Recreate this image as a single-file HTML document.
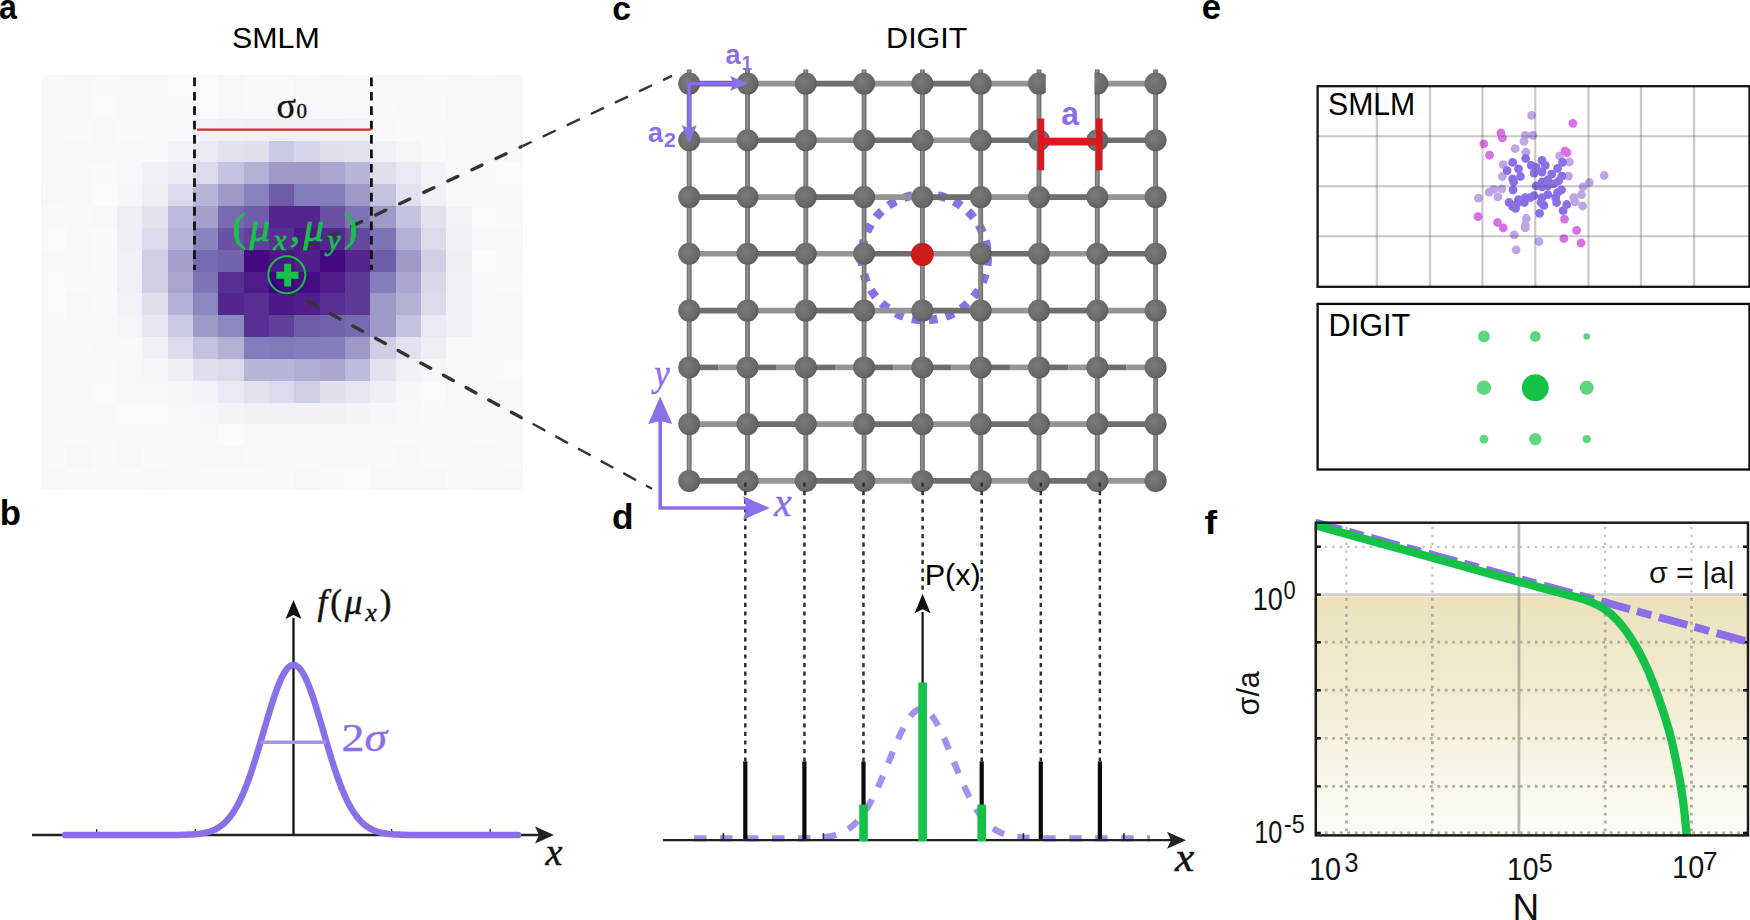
<!DOCTYPE html>
<html lang="en"><head><meta charset="utf-8"><title>SMLM vs DIGIT</title>
<style>html,body{margin:0;padding:0;background:#fff;}body{width:1750px;height:920px;overflow:hidden;}svg{display:block;}</style>
</head><body>
<svg width="1750" height="920" viewBox="0 0 1750 920">
<rect width="1750" height="920" fill="#fff"/>
<g shape-rendering="crispEdges">
<rect x="41.0" y="75.0" width="481.4" height="415.0" fill="#f9f8fb"/>
<rect x="41.00" y="75.00" width="25.64" height="22.14" fill="#f9f8fb"/>
<rect x="66.34" y="75.00" width="25.64" height="22.14" fill="#f9f7fb"/>
<rect x="91.67" y="75.00" width="25.64" height="22.14" fill="#f9f8fb"/>
<rect x="117.00" y="75.00" width="25.64" height="22.14" fill="#f8f7fb"/>
<rect x="142.34" y="75.00" width="25.64" height="22.14" fill="#f8f7fb"/>
<rect x="167.68" y="75.00" width="25.64" height="22.14" fill="#faf9fc"/>
<rect x="193.01" y="75.00" width="25.64" height="22.14" fill="#faf9fc"/>
<rect x="218.34" y="75.00" width="25.64" height="22.14" fill="#f8f6fa"/>
<rect x="243.68" y="75.00" width="25.64" height="22.14" fill="#f9f8fb"/>
<rect x="269.01" y="75.00" width="25.64" height="22.14" fill="#f9f8fb"/>
<rect x="294.35" y="75.00" width="25.64" height="22.14" fill="#f7f6fa"/>
<rect x="319.69" y="75.00" width="25.64" height="22.14" fill="#f9f7fb"/>
<rect x="345.02" y="75.00" width="25.64" height="22.14" fill="#f8f6fa"/>
<rect x="370.36" y="75.00" width="25.64" height="22.14" fill="#f9f7fb"/>
<rect x="395.69" y="75.00" width="25.64" height="22.14" fill="#f8f7fb"/>
<rect x="421.03" y="75.00" width="25.64" height="22.14" fill="#faf8fb"/>
<rect x="446.36" y="75.00" width="25.64" height="22.14" fill="#f8f7fb"/>
<rect x="471.69" y="75.00" width="25.64" height="22.14" fill="#f8f6fa"/>
<rect x="497.03" y="75.00" width="25.64" height="22.14" fill="#f9f7fb"/>
<rect x="41.00" y="96.84" width="25.64" height="22.14" fill="#f8f7fb"/>
<rect x="66.34" y="96.84" width="25.64" height="22.14" fill="#f8f7fb"/>
<rect x="91.67" y="96.84" width="25.64" height="22.14" fill="#faf9fc"/>
<rect x="117.00" y="96.84" width="25.64" height="22.14" fill="#f8f7fb"/>
<rect x="142.34" y="96.84" width="25.64" height="22.14" fill="#f8f7fb"/>
<rect x="167.68" y="96.84" width="25.64" height="22.14" fill="#f9f8fb"/>
<rect x="193.01" y="96.84" width="25.64" height="22.14" fill="#faf9fc"/>
<rect x="218.34" y="96.84" width="25.64" height="22.14" fill="#f8f6fa"/>
<rect x="243.68" y="96.84" width="25.64" height="22.14" fill="#f9f7fb"/>
<rect x="269.01" y="96.84" width="25.64" height="22.14" fill="#f8f7fb"/>
<rect x="294.35" y="96.84" width="25.64" height="22.14" fill="#f8f6fa"/>
<rect x="319.69" y="96.84" width="25.64" height="22.14" fill="#f8f7fb"/>
<rect x="345.02" y="96.84" width="25.64" height="22.14" fill="#f8f6fa"/>
<rect x="370.36" y="96.84" width="25.64" height="22.14" fill="#f9f8fb"/>
<rect x="395.69" y="96.84" width="25.64" height="22.14" fill="#f8f7fa"/>
<rect x="421.03" y="96.84" width="25.64" height="22.14" fill="#f9f8fb"/>
<rect x="446.36" y="96.84" width="25.64" height="22.14" fill="#f7f6fa"/>
<rect x="471.69" y="96.84" width="25.64" height="22.14" fill="#f8f6fa"/>
<rect x="497.03" y="96.84" width="25.64" height="22.14" fill="#faf8fc"/>
<rect x="41.00" y="118.68" width="25.64" height="22.14" fill="#faf8fc"/>
<rect x="66.34" y="118.68" width="25.64" height="22.14" fill="#f9f8fb"/>
<rect x="91.67" y="118.68" width="25.64" height="22.14" fill="#f7f6fa"/>
<rect x="117.00" y="118.68" width="25.64" height="22.14" fill="#f9f8fb"/>
<rect x="142.34" y="118.68" width="25.64" height="22.14" fill="#f8f7fb"/>
<rect x="167.68" y="118.68" width="25.64" height="22.14" fill="#f9f8fb"/>
<rect x="193.01" y="118.68" width="25.64" height="22.14" fill="#f4f2f8"/>
<rect x="218.34" y="118.68" width="25.64" height="22.14" fill="#f3f1f7"/>
<rect x="243.68" y="118.68" width="25.64" height="22.14" fill="#f2f0f7"/>
<rect x="269.01" y="118.68" width="25.64" height="22.14" fill="#f1eff6"/>
<rect x="294.35" y="118.68" width="25.64" height="22.14" fill="#f2f0f7"/>
<rect x="319.69" y="118.68" width="25.64" height="22.14" fill="#f2f0f7"/>
<rect x="345.02" y="118.68" width="25.64" height="22.14" fill="#f4f2f8"/>
<rect x="370.36" y="118.68" width="25.64" height="22.14" fill="#f9f7fb"/>
<rect x="395.69" y="118.68" width="25.64" height="22.14" fill="#f9f8fb"/>
<rect x="421.03" y="118.68" width="25.64" height="22.14" fill="#f9f8fb"/>
<rect x="446.36" y="118.68" width="25.64" height="22.14" fill="#f8f7fb"/>
<rect x="471.69" y="118.68" width="25.64" height="22.14" fill="#f8f7fb"/>
<rect x="497.03" y="118.68" width="25.64" height="22.14" fill="#f8f6fa"/>
<rect x="41.00" y="140.52" width="25.64" height="22.14" fill="#f8f7fb"/>
<rect x="66.34" y="140.52" width="25.64" height="22.14" fill="#f8f6fa"/>
<rect x="91.67" y="140.52" width="25.64" height="22.14" fill="#f8f6fa"/>
<rect x="117.00" y="140.52" width="25.64" height="22.14" fill="#f7f6fa"/>
<rect x="142.34" y="140.52" width="25.64" height="22.14" fill="#f8f7fb"/>
<rect x="167.68" y="140.52" width="25.64" height="22.14" fill="#f4f2f8"/>
<rect x="193.01" y="140.52" width="25.64" height="22.14" fill="#ebe9f3"/>
<rect x="218.34" y="140.52" width="25.64" height="22.14" fill="#e2e2ef"/>
<rect x="243.68" y="140.52" width="25.64" height="22.14" fill="#dfdfed"/>
<rect x="269.01" y="140.52" width="25.64" height="22.14" fill="#c9cae3"/>
<rect x="294.35" y="140.52" width="25.64" height="22.14" fill="#d5d5e9"/>
<rect x="319.69" y="140.52" width="25.64" height="22.14" fill="#dfdfed"/>
<rect x="345.02" y="140.52" width="25.64" height="22.14" fill="#e2e2ef"/>
<rect x="370.36" y="140.52" width="25.64" height="22.14" fill="#f2f0f7"/>
<rect x="395.69" y="140.52" width="25.64" height="22.14" fill="#f6f4f9"/>
<rect x="421.03" y="140.52" width="25.64" height="22.14" fill="#f9f8fb"/>
<rect x="446.36" y="140.52" width="25.64" height="22.14" fill="#f8f6fa"/>
<rect x="471.69" y="140.52" width="25.64" height="22.14" fill="#f7f6fa"/>
<rect x="497.03" y="140.52" width="25.64" height="22.14" fill="#f8f6fa"/>
<rect x="41.00" y="162.36" width="25.64" height="22.14" fill="#f8f7fb"/>
<rect x="66.34" y="162.36" width="25.64" height="22.14" fill="#f8f7fb"/>
<rect x="91.67" y="162.36" width="25.64" height="22.14" fill="#f9f8fb"/>
<rect x="117.00" y="162.36" width="25.64" height="22.14" fill="#f8f6fa"/>
<rect x="142.34" y="162.36" width="25.64" height="22.14" fill="#f2f0f7"/>
<rect x="167.68" y="162.36" width="25.64" height="22.14" fill="#eeecf5"/>
<rect x="193.01" y="162.36" width="25.64" height="22.14" fill="#dadaeb"/>
<rect x="218.34" y="162.36" width="25.64" height="22.14" fill="#c2c3df"/>
<rect x="243.68" y="162.36" width="25.64" height="22.14" fill="#b1b0d5"/>
<rect x="269.01" y="162.36" width="25.64" height="22.14" fill="#9e9ac8"/>
<rect x="294.35" y="162.36" width="25.64" height="22.14" fill="#9e9ac8"/>
<rect x="319.69" y="162.36" width="25.64" height="22.14" fill="#aaa8d0"/>
<rect x="345.02" y="162.36" width="25.64" height="22.14" fill="#b6b6d8"/>
<rect x="370.36" y="162.36" width="25.64" height="22.14" fill="#dfdfed"/>
<rect x="395.69" y="162.36" width="25.64" height="22.14" fill="#ebe9f3"/>
<rect x="421.03" y="162.36" width="25.64" height="22.14" fill="#f4f2f8"/>
<rect x="446.36" y="162.36" width="25.64" height="22.14" fill="#f8f7fb"/>
<rect x="471.69" y="162.36" width="25.64" height="22.14" fill="#f9f8fb"/>
<rect x="497.03" y="162.36" width="25.64" height="22.14" fill="#faf9fc"/>
<rect x="41.00" y="184.20" width="25.64" height="22.14" fill="#f8f6fa"/>
<rect x="66.34" y="184.20" width="25.64" height="22.14" fill="#f7f6fa"/>
<rect x="91.67" y="184.20" width="25.64" height="22.14" fill="#faf9fc"/>
<rect x="117.00" y="184.20" width="25.64" height="22.14" fill="#f7f5fa"/>
<rect x="142.34" y="184.20" width="25.64" height="22.14" fill="#f0eef5"/>
<rect x="167.68" y="184.20" width="25.64" height="22.14" fill="#dadaeb"/>
<rect x="193.01" y="184.20" width="25.64" height="22.14" fill="#b6b6d8"/>
<rect x="218.34" y="184.20" width="25.64" height="22.14" fill="#9e9ac8"/>
<rect x="243.68" y="184.20" width="25.64" height="22.14" fill="#8683bd"/>
<rect x="269.01" y="184.20" width="25.64" height="22.14" fill="#6f5ca9"/>
<rect x="294.35" y="184.20" width="25.64" height="22.14" fill="#817ebb"/>
<rect x="319.69" y="184.20" width="25.64" height="22.14" fill="#817ebb"/>
<rect x="345.02" y="184.20" width="25.64" height="22.14" fill="#9e9ac8"/>
<rect x="370.36" y="184.20" width="25.64" height="22.14" fill="#c2c3df"/>
<rect x="395.69" y="184.20" width="25.64" height="22.14" fill="#e2e2ef"/>
<rect x="421.03" y="184.20" width="25.64" height="22.14" fill="#f2f0f7"/>
<rect x="446.36" y="184.20" width="25.64" height="22.14" fill="#f8f7fa"/>
<rect x="471.69" y="184.20" width="25.64" height="22.14" fill="#f9f8fb"/>
<rect x="497.03" y="184.20" width="25.64" height="22.14" fill="#faf8fb"/>
<rect x="41.00" y="206.04" width="25.64" height="22.14" fill="#f9f8fb"/>
<rect x="66.34" y="206.04" width="25.64" height="22.14" fill="#f8f7fa"/>
<rect x="91.67" y="206.04" width="25.64" height="22.14" fill="#f8f6fa"/>
<rect x="117.00" y="206.04" width="25.64" height="22.14" fill="#f0eef5"/>
<rect x="142.34" y="206.04" width="25.64" height="22.14" fill="#e2e2ef"/>
<rect x="167.68" y="206.04" width="25.64" height="22.14" fill="#bbbcdb"/>
<rect x="193.01" y="206.04" width="25.64" height="22.14" fill="#a3a0cb"/>
<rect x="218.34" y="206.04" width="25.64" height="22.14" fill="#766ab0"/>
<rect x="243.68" y="206.04" width="25.64" height="22.14" fill="#6f5ca9"/>
<rect x="269.01" y="206.04" width="25.64" height="22.14" fill="#53258e"/>
<rect x="294.35" y="206.04" width="25.64" height="22.14" fill="#53258e"/>
<rect x="319.69" y="206.04" width="25.64" height="22.14" fill="#6a51a3"/>
<rect x="345.02" y="206.04" width="25.64" height="22.14" fill="#7c74b5"/>
<rect x="370.36" y="206.04" width="25.64" height="22.14" fill="#9e9ac8"/>
<rect x="395.69" y="206.04" width="25.64" height="22.14" fill="#c2c3df"/>
<rect x="421.03" y="206.04" width="25.64" height="22.14" fill="#e2e2ef"/>
<rect x="446.36" y="206.04" width="25.64" height="22.14" fill="#f4f2f8"/>
<rect x="471.69" y="206.04" width="25.64" height="22.14" fill="#faf9fc"/>
<rect x="497.03" y="206.04" width="25.64" height="22.14" fill="#f8f7fb"/>
<rect x="41.00" y="227.88" width="25.64" height="22.14" fill="#faf9fc"/>
<rect x="66.34" y="227.88" width="25.64" height="22.14" fill="#f8f7fb"/>
<rect x="91.67" y="227.88" width="25.64" height="22.14" fill="#f9f8fb"/>
<rect x="117.00" y="227.88" width="25.64" height="22.14" fill="#f0eef5"/>
<rect x="142.34" y="227.88" width="25.64" height="22.14" fill="#dadaeb"/>
<rect x="167.68" y="227.88" width="25.64" height="22.14" fill="#b6b6d8"/>
<rect x="193.01" y="227.88" width="25.64" height="22.14" fill="#8683bd"/>
<rect x="218.34" y="227.88" width="25.64" height="22.14" fill="#6a51a3"/>
<rect x="243.68" y="227.88" width="25.64" height="22.14" fill="#61409b"/>
<rect x="269.01" y="227.88" width="25.64" height="22.14" fill="#582f93"/>
<rect x="294.35" y="227.88" width="25.64" height="22.14" fill="#4c1989"/>
<rect x="319.69" y="227.88" width="25.64" height="22.14" fill="#53258e"/>
<rect x="345.02" y="227.88" width="25.64" height="22.14" fill="#65479e"/>
<rect x="370.36" y="227.88" width="25.64" height="22.14" fill="#7c74b5"/>
<rect x="395.69" y="227.88" width="25.64" height="22.14" fill="#b1b0d5"/>
<rect x="421.03" y="227.88" width="25.64" height="22.14" fill="#dadaeb"/>
<rect x="446.36" y="227.88" width="25.64" height="22.14" fill="#f2f0f7"/>
<rect x="471.69" y="227.88" width="25.64" height="22.14" fill="#f8f6fa"/>
<rect x="497.03" y="227.88" width="25.64" height="22.14" fill="#f7f6fa"/>
<rect x="41.00" y="249.72" width="25.64" height="22.14" fill="#f9f7fb"/>
<rect x="66.34" y="249.72" width="25.64" height="22.14" fill="#f7f6fa"/>
<rect x="91.67" y="249.72" width="25.64" height="22.14" fill="#f9f8fb"/>
<rect x="117.00" y="249.72" width="25.64" height="22.14" fill="#f2f0f7"/>
<rect x="142.34" y="249.72" width="25.64" height="22.14" fill="#cecee5"/>
<rect x="167.68" y="249.72" width="25.64" height="22.14" fill="#a3a0cb"/>
<rect x="193.01" y="249.72" width="25.64" height="22.14" fill="#766ab0"/>
<rect x="218.34" y="249.72" width="25.64" height="22.14" fill="#7363ac"/>
<rect x="243.68" y="249.72" width="25.64" height="22.14" fill="#440981"/>
<rect x="269.01" y="249.72" width="25.64" height="22.14" fill="#4b1687"/>
<rect x="294.35" y="249.72" width="25.64" height="22.14" fill="#501f8b"/>
<rect x="319.69" y="249.72" width="25.64" height="22.14" fill="#440981"/>
<rect x="345.02" y="249.72" width="25.64" height="22.14" fill="#53258e"/>
<rect x="370.36" y="249.72" width="25.64" height="22.14" fill="#6f5ca9"/>
<rect x="395.69" y="249.72" width="25.64" height="22.14" fill="#9e9ac8"/>
<rect x="421.03" y="249.72" width="25.64" height="22.14" fill="#cecee5"/>
<rect x="446.36" y="249.72" width="25.64" height="22.14" fill="#f0eef5"/>
<rect x="471.69" y="249.72" width="25.64" height="22.14" fill="#faf9fc"/>
<rect x="497.03" y="249.72" width="25.64" height="22.14" fill="#f8f7fb"/>
<rect x="41.00" y="271.56" width="25.64" height="22.14" fill="#faf9fc"/>
<rect x="66.34" y="271.56" width="25.64" height="22.14" fill="#f9f8fb"/>
<rect x="91.67" y="271.56" width="25.64" height="22.14" fill="#f9f8fb"/>
<rect x="117.00" y="271.56" width="25.64" height="22.14" fill="#f1eff6"/>
<rect x="142.34" y="271.56" width="25.64" height="22.14" fill="#cecee5"/>
<rect x="167.68" y="271.56" width="25.64" height="22.14" fill="#a8a5ce"/>
<rect x="193.01" y="271.56" width="25.64" height="22.14" fill="#7c74b5"/>
<rect x="218.34" y="271.56" width="25.64" height="22.14" fill="#582f93"/>
<rect x="243.68" y="271.56" width="25.64" height="22.14" fill="#4e1c8a"/>
<rect x="269.01" y="271.56" width="25.64" height="22.14" fill="#3f007d"/>
<rect x="294.35" y="271.56" width="25.64" height="22.14" fill="#460c83"/>
<rect x="319.69" y="271.56" width="25.64" height="22.14" fill="#501f8b"/>
<rect x="345.02" y="271.56" width="25.64" height="22.14" fill="#5e3998"/>
<rect x="370.36" y="271.56" width="25.64" height="22.14" fill="#817ebb"/>
<rect x="395.69" y="271.56" width="25.64" height="22.14" fill="#aaa8d0"/>
<rect x="421.03" y="271.56" width="25.64" height="22.14" fill="#d8d8ea"/>
<rect x="446.36" y="271.56" width="25.64" height="22.14" fill="#f1eff6"/>
<rect x="471.69" y="271.56" width="25.64" height="22.14" fill="#f8f7fb"/>
<rect x="497.03" y="271.56" width="25.64" height="22.14" fill="#faf8fb"/>
<rect x="41.00" y="293.40" width="25.64" height="22.14" fill="#faf9fc"/>
<rect x="66.34" y="293.40" width="25.64" height="22.14" fill="#f8f6fa"/>
<rect x="91.67" y="293.40" width="25.64" height="22.14" fill="#f9f8fb"/>
<rect x="117.00" y="293.40" width="25.64" height="22.14" fill="#f4f2f8"/>
<rect x="142.34" y="293.40" width="25.64" height="22.14" fill="#dfdfed"/>
<rect x="167.68" y="293.40" width="25.64" height="22.14" fill="#b1b0d5"/>
<rect x="193.01" y="293.40" width="25.64" height="22.14" fill="#8b87bf"/>
<rect x="218.34" y="293.40" width="25.64" height="22.14" fill="#53258e"/>
<rect x="243.68" y="293.40" width="25.64" height="22.14" fill="#582f93"/>
<rect x="269.01" y="293.40" width="25.64" height="22.14" fill="#4c1989"/>
<rect x="294.35" y="293.40" width="25.64" height="22.14" fill="#501f8b"/>
<rect x="319.69" y="293.40" width="25.64" height="22.14" fill="#582f93"/>
<rect x="345.02" y="293.40" width="25.64" height="22.14" fill="#5e3998"/>
<rect x="370.36" y="293.40" width="25.64" height="22.14" fill="#9e9ac8"/>
<rect x="395.69" y="293.40" width="25.64" height="22.14" fill="#b1b0d5"/>
<rect x="421.03" y="293.40" width="25.64" height="22.14" fill="#dadaeb"/>
<rect x="446.36" y="293.40" width="25.64" height="22.14" fill="#f2f0f7"/>
<rect x="471.69" y="293.40" width="25.64" height="22.14" fill="#f7f6fa"/>
<rect x="497.03" y="293.40" width="25.64" height="22.14" fill="#f8f6fa"/>
<rect x="41.00" y="315.24" width="25.64" height="22.14" fill="#f9f8fb"/>
<rect x="66.34" y="315.24" width="25.64" height="22.14" fill="#f9f7fb"/>
<rect x="91.67" y="315.24" width="25.64" height="22.14" fill="#f9f7fb"/>
<rect x="117.00" y="315.24" width="25.64" height="22.14" fill="#f6f4f9"/>
<rect x="142.34" y="315.24" width="25.64" height="22.14" fill="#e6e5f1"/>
<rect x="167.68" y="315.24" width="25.64" height="22.14" fill="#c9cae3"/>
<rect x="193.01" y="315.24" width="25.64" height="22.14" fill="#9e9ac8"/>
<rect x="218.34" y="315.24" width="25.64" height="22.14" fill="#8b87bf"/>
<rect x="243.68" y="315.24" width="25.64" height="22.14" fill="#582f93"/>
<rect x="269.01" y="315.24" width="25.64" height="22.14" fill="#61409b"/>
<rect x="294.35" y="315.24" width="25.64" height="22.14" fill="#6f5ca9"/>
<rect x="319.69" y="315.24" width="25.64" height="22.14" fill="#7363ac"/>
<rect x="345.02" y="315.24" width="25.64" height="22.14" fill="#766ab0"/>
<rect x="370.36" y="315.24" width="25.64" height="22.14" fill="#9e9ac8"/>
<rect x="395.69" y="315.24" width="25.64" height="22.14" fill="#c2c3df"/>
<rect x="421.03" y="315.24" width="25.64" height="22.14" fill="#ebe9f3"/>
<rect x="446.36" y="315.24" width="25.64" height="22.14" fill="#f2f0f7"/>
<rect x="471.69" y="315.24" width="25.64" height="22.14" fill="#f8f7fb"/>
<rect x="497.03" y="315.24" width="25.64" height="22.14" fill="#f8f7fb"/>
<rect x="41.00" y="337.08" width="25.64" height="22.14" fill="#f8f7fb"/>
<rect x="66.34" y="337.08" width="25.64" height="22.14" fill="#f8f7fb"/>
<rect x="91.67" y="337.08" width="25.64" height="22.14" fill="#f7f6fa"/>
<rect x="117.00" y="337.08" width="25.64" height="22.14" fill="#f8f7fa"/>
<rect x="142.34" y="337.08" width="25.64" height="22.14" fill="#f2f0f7"/>
<rect x="167.68" y="337.08" width="25.64" height="22.14" fill="#dadaeb"/>
<rect x="193.01" y="337.08" width="25.64" height="22.14" fill="#c2c3df"/>
<rect x="218.34" y="337.08" width="25.64" height="22.14" fill="#b1b0d5"/>
<rect x="243.68" y="337.08" width="25.64" height="22.14" fill="#817ebb"/>
<rect x="269.01" y="337.08" width="25.64" height="22.14" fill="#7f7bb9"/>
<rect x="294.35" y="337.08" width="25.64" height="22.14" fill="#817ebb"/>
<rect x="319.69" y="337.08" width="25.64" height="22.14" fill="#817ebb"/>
<rect x="345.02" y="337.08" width="25.64" height="22.14" fill="#9e9ac8"/>
<rect x="370.36" y="337.08" width="25.64" height="22.14" fill="#cecee5"/>
<rect x="395.69" y="337.08" width="25.64" height="22.14" fill="#e2e2ef"/>
<rect x="421.03" y="337.08" width="25.64" height="22.14" fill="#f0eef5"/>
<rect x="446.36" y="337.08" width="25.64" height="22.14" fill="#f8f7fa"/>
<rect x="471.69" y="337.08" width="25.64" height="22.14" fill="#f9f7fb"/>
<rect x="497.03" y="337.08" width="25.64" height="22.14" fill="#f9f8fb"/>
<rect x="41.00" y="358.92" width="25.64" height="22.14" fill="#f8f7fb"/>
<rect x="66.34" y="358.92" width="25.64" height="22.14" fill="#f9f8fb"/>
<rect x="91.67" y="358.92" width="25.64" height="22.14" fill="#f9f8fb"/>
<rect x="117.00" y="358.92" width="25.64" height="22.14" fill="#f7f6fa"/>
<rect x="142.34" y="358.92" width="25.64" height="22.14" fill="#f6f4f9"/>
<rect x="167.68" y="358.92" width="25.64" height="22.14" fill="#f0eef5"/>
<rect x="193.01" y="358.92" width="25.64" height="22.14" fill="#dfdfed"/>
<rect x="218.34" y="358.92" width="25.64" height="22.14" fill="#dadaeb"/>
<rect x="243.68" y="358.92" width="25.64" height="22.14" fill="#b6b6d8"/>
<rect x="269.01" y="358.92" width="25.64" height="22.14" fill="#b6b6d8"/>
<rect x="294.35" y="358.92" width="25.64" height="22.14" fill="#afaed3"/>
<rect x="319.69" y="358.92" width="25.64" height="22.14" fill="#aaa8d0"/>
<rect x="345.02" y="358.92" width="25.64" height="22.14" fill="#bbbcdb"/>
<rect x="370.36" y="358.92" width="25.64" height="22.14" fill="#e2e2ef"/>
<rect x="395.69" y="358.92" width="25.64" height="22.14" fill="#f2f0f7"/>
<rect x="421.03" y="358.92" width="25.64" height="22.14" fill="#f7f5fa"/>
<rect x="446.36" y="358.92" width="25.64" height="22.14" fill="#f9f7fb"/>
<rect x="471.69" y="358.92" width="25.64" height="22.14" fill="#f8f7fb"/>
<rect x="497.03" y="358.92" width="25.64" height="22.14" fill="#faf9fc"/>
<rect x="41.00" y="380.76" width="25.64" height="22.14" fill="#f9f8fb"/>
<rect x="66.34" y="380.76" width="25.64" height="22.14" fill="#f8f7fb"/>
<rect x="91.67" y="380.76" width="25.64" height="22.14" fill="#faf9fc"/>
<rect x="117.00" y="380.76" width="25.64" height="22.14" fill="#f8f7fb"/>
<rect x="142.34" y="380.76" width="25.64" height="22.14" fill="#f8f7fb"/>
<rect x="167.68" y="380.76" width="25.64" height="22.14" fill="#f6f4f9"/>
<rect x="193.01" y="380.76" width="25.64" height="22.14" fill="#f4f2f8"/>
<rect x="218.34" y="380.76" width="25.64" height="22.14" fill="#ebe9f3"/>
<rect x="243.68" y="380.76" width="25.64" height="22.14" fill="#e2e2ef"/>
<rect x="269.01" y="380.76" width="25.64" height="22.14" fill="#dadaeb"/>
<rect x="294.35" y="380.76" width="25.64" height="22.14" fill="#cecee5"/>
<rect x="319.69" y="380.76" width="25.64" height="22.14" fill="#dfdfed"/>
<rect x="345.02" y="380.76" width="25.64" height="22.14" fill="#e6e5f1"/>
<rect x="370.36" y="380.76" width="25.64" height="22.14" fill="#f0eef5"/>
<rect x="395.69" y="380.76" width="25.64" height="22.14" fill="#f7f5fa"/>
<rect x="421.03" y="380.76" width="25.64" height="22.14" fill="#faf9fc"/>
<rect x="446.36" y="380.76" width="25.64" height="22.14" fill="#f8f7fb"/>
<rect x="471.69" y="380.76" width="25.64" height="22.14" fill="#f9f7fb"/>
<rect x="497.03" y="380.76" width="25.64" height="22.14" fill="#f8f7fb"/>
<rect x="41.00" y="402.60" width="25.64" height="22.14" fill="#f9f8fb"/>
<rect x="66.34" y="402.60" width="25.64" height="22.14" fill="#f8f7fb"/>
<rect x="91.67" y="402.60" width="25.64" height="22.14" fill="#f8f7fb"/>
<rect x="117.00" y="402.60" width="25.64" height="22.14" fill="#faf9fc"/>
<rect x="142.34" y="402.60" width="25.64" height="22.14" fill="#faf9fc"/>
<rect x="167.68" y="402.60" width="25.64" height="22.14" fill="#f8f7fb"/>
<rect x="193.01" y="402.60" width="25.64" height="22.14" fill="#f7f5fa"/>
<rect x="218.34" y="402.60" width="25.64" height="22.14" fill="#f5f3f9"/>
<rect x="243.68" y="402.60" width="25.64" height="22.14" fill="#f2f0f7"/>
<rect x="269.01" y="402.60" width="25.64" height="22.14" fill="#f2f0f7"/>
<rect x="294.35" y="402.60" width="25.64" height="22.14" fill="#f2f0f7"/>
<rect x="319.69" y="402.60" width="25.64" height="22.14" fill="#f2f0f7"/>
<rect x="345.02" y="402.60" width="25.64" height="22.14" fill="#f5f3f9"/>
<rect x="370.36" y="402.60" width="25.64" height="22.14" fill="#f7f5fa"/>
<rect x="395.69" y="402.60" width="25.64" height="22.14" fill="#f7f6fa"/>
<rect x="421.03" y="402.60" width="25.64" height="22.14" fill="#f9f8fb"/>
<rect x="446.36" y="402.60" width="25.64" height="22.14" fill="#f9f7fb"/>
<rect x="471.69" y="402.60" width="25.64" height="22.14" fill="#f8f7fb"/>
<rect x="497.03" y="402.60" width="25.64" height="22.14" fill="#f9f8fb"/>
<rect x="41.00" y="424.44" width="25.64" height="22.14" fill="#f9f8fb"/>
<rect x="66.34" y="424.44" width="25.64" height="22.14" fill="#f9f8fb"/>
<rect x="91.67" y="424.44" width="25.64" height="22.14" fill="#f9f8fb"/>
<rect x="117.00" y="424.44" width="25.64" height="22.14" fill="#f8f7fb"/>
<rect x="142.34" y="424.44" width="25.64" height="22.14" fill="#f9f8fb"/>
<rect x="167.68" y="424.44" width="25.64" height="22.14" fill="#f9f8fb"/>
<rect x="193.01" y="424.44" width="25.64" height="22.14" fill="#f8f7fa"/>
<rect x="218.34" y="424.44" width="25.64" height="22.14" fill="#faf9fc"/>
<rect x="243.68" y="424.44" width="25.64" height="22.14" fill="#f8f7fb"/>
<rect x="269.01" y="424.44" width="25.64" height="22.14" fill="#f8f7fb"/>
<rect x="294.35" y="424.44" width="25.64" height="22.14" fill="#f9f8fb"/>
<rect x="319.69" y="424.44" width="25.64" height="22.14" fill="#f9f8fb"/>
<rect x="345.02" y="424.44" width="25.64" height="22.14" fill="#f8f7fa"/>
<rect x="370.36" y="424.44" width="25.64" height="22.14" fill="#f9f8fb"/>
<rect x="395.69" y="424.44" width="25.64" height="22.14" fill="#f9f8fb"/>
<rect x="421.03" y="424.44" width="25.64" height="22.14" fill="#f9f8fb"/>
<rect x="446.36" y="424.44" width="25.64" height="22.14" fill="#f8f7fb"/>
<rect x="471.69" y="424.44" width="25.64" height="22.14" fill="#faf8fc"/>
<rect x="497.03" y="424.44" width="25.64" height="22.14" fill="#f9f8fb"/>
<rect x="41.00" y="446.28" width="25.64" height="22.14" fill="#f9f8fb"/>
<rect x="66.34" y="446.28" width="25.64" height="22.14" fill="#f8f6fa"/>
<rect x="91.67" y="446.28" width="25.64" height="22.14" fill="#f9f8fb"/>
<rect x="117.00" y="446.28" width="25.64" height="22.14" fill="#f8f6fa"/>
<rect x="142.34" y="446.28" width="25.64" height="22.14" fill="#f9f8fb"/>
<rect x="167.68" y="446.28" width="25.64" height="22.14" fill="#f9f8fb"/>
<rect x="193.01" y="446.28" width="25.64" height="22.14" fill="#f8f7fb"/>
<rect x="218.34" y="446.28" width="25.64" height="22.14" fill="#f8f6fa"/>
<rect x="243.68" y="446.28" width="25.64" height="22.14" fill="#f9f7fb"/>
<rect x="269.01" y="446.28" width="25.64" height="22.14" fill="#f9f8fb"/>
<rect x="294.35" y="446.28" width="25.64" height="22.14" fill="#faf8fc"/>
<rect x="319.69" y="446.28" width="25.64" height="22.14" fill="#f9f7fb"/>
<rect x="345.02" y="446.28" width="25.64" height="22.14" fill="#f9f8fb"/>
<rect x="370.36" y="446.28" width="25.64" height="22.14" fill="#f8f7fa"/>
<rect x="395.69" y="446.28" width="25.64" height="22.14" fill="#f8f6fa"/>
<rect x="421.03" y="446.28" width="25.64" height="22.14" fill="#f9f8fb"/>
<rect x="446.36" y="446.28" width="25.64" height="22.14" fill="#f9f8fb"/>
<rect x="471.69" y="446.28" width="25.64" height="22.14" fill="#f8f6fa"/>
<rect x="497.03" y="446.28" width="25.64" height="22.14" fill="#f8f7fb"/>
<rect x="41.00" y="468.12" width="25.64" height="22.14" fill="#f8f7fa"/>
<rect x="66.34" y="468.12" width="25.64" height="22.14" fill="#f9f8fb"/>
<rect x="91.67" y="468.12" width="25.64" height="22.14" fill="#faf8fc"/>
<rect x="117.00" y="468.12" width="25.64" height="22.14" fill="#f9f8fb"/>
<rect x="142.34" y="468.12" width="25.64" height="22.14" fill="#f8f7fa"/>
<rect x="167.68" y="468.12" width="25.64" height="22.14" fill="#f9f8fb"/>
<rect x="193.01" y="468.12" width="25.64" height="22.14" fill="#f9f8fb"/>
<rect x="218.34" y="468.12" width="25.64" height="22.14" fill="#f9f8fb"/>
<rect x="243.68" y="468.12" width="25.64" height="22.14" fill="#f9f8fb"/>
<rect x="269.01" y="468.12" width="25.64" height="22.14" fill="#f9f8fb"/>
<rect x="294.35" y="468.12" width="25.64" height="22.14" fill="#f8f6fa"/>
<rect x="319.69" y="468.12" width="25.64" height="22.14" fill="#faf8fb"/>
<rect x="345.02" y="468.12" width="25.64" height="22.14" fill="#faf9fc"/>
<rect x="370.36" y="468.12" width="25.64" height="22.14" fill="#f7f6fa"/>
<rect x="395.69" y="468.12" width="25.64" height="22.14" fill="#f8f6fa"/>
<rect x="421.03" y="468.12" width="25.64" height="22.14" fill="#f7f6fa"/>
<rect x="446.36" y="468.12" width="25.64" height="22.14" fill="#f9f8fb"/>
<rect x="471.69" y="468.12" width="25.64" height="22.14" fill="#f7f6fa"/>
<rect x="497.03" y="468.12" width="25.64" height="22.14" fill="#f8f6fa"/>
</g>
<path d="M194.5 77.5V270 M371.4 77.5V270" stroke="#111" stroke-width="2.8" stroke-dasharray="8.7 5.7" fill="none"/>
<path d="M197 129.6H370.7" stroke="#d7282d" stroke-width="2.2"/>
<text x="276.5" y="117.7" font-family="'Liberation Serif',serif" font-size="36" fill="#111" stroke="#111" stroke-width="0.4">σ<tspan font-size="21" dx="0.5">0</tspan></text>
<clipPath id="cin"><rect x="0" y="0" width="522.4" height="920"/></clipPath><clipPath id="cout"><rect x="522.4" y="0" width="700" height="920"/></clipPath>
<g fill="none" stroke="#343434">
<path d="M286 257.07L672 75.9" clip-path="url(#cin)" stroke-width="3.4" stroke-linecap="round" stroke-dasharray="11 15.6" stroke-dashoffset="7.36"/>
<path d="M286 257.07L672 75.9" clip-path="url(#cout)" stroke-width="2.4" stroke-dasharray="14.4 12.2" stroke-dashoffset="9.06"/>
<path d="M290.5 291.98L652 488.8" clip-path="url(#cin)" stroke-width="3.4" stroke-linecap="round" stroke-dasharray="11.1 14.7" stroke-dashoffset="6.4"/>
<path d="M290.5 291.98L652 488.8" clip-path="url(#cout)" stroke-width="2.4" stroke-dasharray="14.5 11.3" stroke-dashoffset="8.1"/>
</g>
<circle cx="286.8" cy="274.8" r="18.5" fill="none" stroke="#16c148" stroke-width="2"/>
<path d="M276.3 271.7h22.2v7.1h-22.2z M284.1 263.8h7.1v22.7h-7.1z" fill="#16c148"/>
<text x="232.5" y="240.5" textLength="125" lengthAdjust="spacing" font-family="'Liberation Serif','DejaVu Serif',serif" font-style="italic" font-size="41" fill="#16c148" stroke="#16c148" stroke-width="0.7"><tspan font-style="normal">(</tspan>μ<tspan font-size="30" dy="9">x</tspan><tspan dy="-9">,</tspan>μ<tspan font-size="30" dy="9">y</tspan><tspan dy="-9" font-style="normal">)</tspan></text>
<text transform="translate(-1.10 19.05) scale(0.9195 1)" font-family="'Liberation Sans',sans-serif" font-size="35.00" font-weight="bold" font-style="normal" fill="#000">a</text>
<text transform="translate(232.05 48.43) scale(1.0147 1)" font-family="'Liberation Sans',sans-serif" font-size="29.91" font-weight="normal" font-style="normal" fill="#000">SMLM</text>
<text transform="translate(-0.17 525.06) scale(1.0092 1)" font-family="'Liberation Sans',sans-serif" font-size="34.40" font-weight="bold" font-style="normal" fill="#000">b</text>
<path d="M32 835H540" stroke="#222" stroke-width="2.3"/>
<path d="M554 835l-19 -8.5l4 8.5l-4 8.5z" fill="#222"/>
<path d="M293.5 835V618" stroke="#111" stroke-width="2.3"/>
<path d="M293.5 600l-8 19l8 -4l8 4z" fill="#111"/>
<path d="M96.7 835v-6" stroke="#222" stroke-width="1.3"/>
<path d="M195.3 835v-6" stroke="#222" stroke-width="1.3"/>
<path d="M391.6 835v-6" stroke="#222" stroke-width="1.3"/>
<path d="M490.2 835v-6" stroke="#222" stroke-width="1.3"/>
<path d="M65.0 835.0 L66.0 835.0 L67.0 835.0 L68.0 835.0 L69.0 835.0 L70.0 835.0 L71.0 835.0 L72.0 835.0 L73.0 835.0 L74.0 835.0 L75.0 835.0 L76.0 835.0 L77.0 835.0 L78.0 835.0 L79.0 835.0 L80.0 835.0 L81.0 835.0 L82.0 835.0 L83.0 835.0 L84.0 835.0 L85.0 835.0 L86.0 835.0 L87.0 835.0 L88.0 835.0 L89.0 835.0 L90.0 835.0 L91.0 835.0 L92.0 835.0 L93.0 835.0 L94.0 835.0 L95.0 835.0 L96.0 835.0 L97.0 835.0 L98.0 835.0 L99.0 835.0 L100.0 835.0 L101.0 835.0 L102.0 835.0 L103.0 835.0 L104.0 835.0 L105.0 835.0 L106.0 835.0 L107.0 835.0 L108.0 835.0 L109.0 835.0 L110.0 835.0 L111.0 835.0 L112.0 835.0 L113.0 835.0 L114.0 835.0 L115.0 835.0 L116.0 835.0 L117.0 835.0 L118.0 835.0 L119.0 835.0 L120.0 835.0 L121.0 835.0 L122.0 835.0 L123.0 835.0 L124.0 835.0 L125.0 835.0 L126.0 835.0 L127.0 835.0 L128.0 835.0 L129.0 835.0 L130.0 835.0 L131.0 835.0 L132.0 835.0 L133.0 835.0 L134.0 835.0 L135.0 835.0 L136.0 835.0 L137.0 835.0 L138.0 835.0 L139.0 835.0 L140.0 835.0 L141.0 835.0 L142.0 835.0 L143.0 835.0 L144.0 835.0 L145.0 835.0 L146.0 835.0 L147.0 835.0 L148.0 835.0 L149.0 835.0 L150.0 835.0 L151.0 835.0 L152.0 835.0 L153.0 835.0 L154.0 835.0 L155.0 835.0 L156.0 835.0 L157.0 835.0 L158.0 835.0 L159.0 835.0 L160.0 835.0 L161.0 835.0 L162.0 835.0 L163.0 835.0 L164.0 835.0 L165.0 835.0 L166.0 835.0 L167.0 835.0 L168.0 835.0 L169.0 835.0 L170.0 835.0 L171.0 835.0 L172.0 835.0 L173.0 834.9 L174.0 834.9 L175.0 834.9 L176.0 834.9 L177.0 834.9 L178.0 834.9 L179.0 834.9 L180.0 834.9 L181.0 834.8 L182.0 834.8 L183.0 834.8 L184.0 834.8 L185.0 834.8 L186.0 834.7 L187.0 834.7 L188.0 834.6 L189.0 834.6 L190.0 834.6 L191.0 834.5 L192.0 834.4 L193.0 834.4 L194.0 834.3 L195.0 834.2 L196.0 834.1 L197.0 834.0 L198.0 833.9 L199.0 833.8 L200.0 833.7 L201.0 833.5 L202.0 833.4 L203.0 833.2 L204.0 833.0 L205.0 832.8 L206.0 832.6 L207.0 832.3 L208.0 832.1 L209.0 831.8 L210.0 831.5 L211.0 831.1 L212.0 830.8 L213.0 830.4 L214.0 829.9 L215.0 829.5 L216.0 829.0 L217.0 828.4 L218.0 827.8 L219.0 827.2 L220.0 826.5 L221.0 825.8 L222.0 825.1 L223.0 824.3 L224.0 823.4 L225.0 822.5 L226.0 821.5 L227.0 820.4 L228.0 819.3 L229.0 818.1 L230.0 816.9 L231.0 815.6 L232.0 814.2 L233.0 812.8 L234.0 811.2 L235.0 809.6 L236.0 807.9 L237.0 806.1 L238.0 804.3 L239.0 802.4 L240.0 800.3 L241.0 798.2 L242.0 796.0 L243.0 793.8 L244.0 791.4 L245.0 789.0 L246.0 786.5 L247.0 783.9 L248.0 781.2 L249.0 778.4 L250.0 775.6 L251.0 772.7 L252.0 769.7 L253.0 766.7 L254.0 763.6 L255.0 760.4 L256.0 757.2 L257.0 753.9 L258.0 750.6 L259.0 747.2 L260.0 743.9 L261.0 740.5 L262.0 737.0 L263.0 733.6 L264.0 730.2 L265.0 726.7 L266.0 723.3 L267.0 719.9 L268.0 716.5 L269.0 713.2 L270.0 709.9 L271.0 706.7 L272.0 703.5 L273.0 700.4 L274.0 697.4 L275.0 694.4 L276.0 691.6 L277.0 688.9 L278.0 686.2 L279.0 683.7 L280.0 681.4 L281.0 679.1 L282.0 677.0 L283.0 675.1 L284.0 673.3 L285.0 671.7 L286.0 670.2 L287.0 668.9 L288.0 667.8 L289.0 666.9 L290.0 666.2 L291.0 665.6 L292.0 665.2 L293.0 665.0 L294.0 665.0 L295.0 665.2 L296.0 665.6 L297.0 666.2 L298.0 666.9 L299.0 667.8 L300.0 668.9 L301.0 670.2 L302.0 671.7 L303.0 673.3 L304.0 675.1 L305.0 677.0 L306.0 679.1 L307.0 681.4 L308.0 683.7 L309.0 686.2 L310.0 688.9 L311.0 691.6 L312.0 694.4 L313.0 697.4 L314.0 700.4 L315.0 703.5 L316.0 706.7 L317.0 709.9 L318.0 713.2 L319.0 716.5 L320.0 719.9 L321.0 723.3 L322.0 726.7 L323.0 730.2 L324.0 733.6 L325.0 737.0 L326.0 740.5 L327.0 743.9 L328.0 747.2 L329.0 750.6 L330.0 753.9 L331.0 757.2 L332.0 760.4 L333.0 763.6 L334.0 766.7 L335.0 769.7 L336.0 772.7 L337.0 775.6 L338.0 778.4 L339.0 781.2 L340.0 783.9 L341.0 786.5 L342.0 789.0 L343.0 791.4 L344.0 793.8 L345.0 796.0 L346.0 798.2 L347.0 800.3 L348.0 802.4 L349.0 804.3 L350.0 806.1 L351.0 807.9 L352.0 809.6 L353.0 811.2 L354.0 812.8 L355.0 814.2 L356.0 815.6 L357.0 816.9 L358.0 818.1 L359.0 819.3 L360.0 820.4 L361.0 821.5 L362.0 822.5 L363.0 823.4 L364.0 824.3 L365.0 825.1 L366.0 825.8 L367.0 826.5 L368.0 827.2 L369.0 827.8 L370.0 828.4 L371.0 829.0 L372.0 829.5 L373.0 829.9 L374.0 830.4 L375.0 830.8 L376.0 831.1 L377.0 831.5 L378.0 831.8 L379.0 832.1 L380.0 832.3 L381.0 832.6 L382.0 832.8 L383.0 833.0 L384.0 833.2 L385.0 833.4 L386.0 833.5 L387.0 833.7 L388.0 833.8 L389.0 833.9 L390.0 834.0 L391.0 834.1 L392.0 834.2 L393.0 834.3 L394.0 834.4 L395.0 834.4 L396.0 834.5 L397.0 834.6 L398.0 834.6 L399.0 834.6 L400.0 834.7 L401.0 834.7 L402.0 834.8 L403.0 834.8 L404.0 834.8 L405.0 834.8 L406.0 834.8 L407.0 834.9 L408.0 834.9 L409.0 834.9 L410.0 834.9 L411.0 834.9 L412.0 834.9 L413.0 834.9 L414.0 834.9 L415.0 835.0 L416.0 835.0 L417.0 835.0 L418.0 835.0 L419.0 835.0 L420.0 835.0 L421.0 835.0 L422.0 835.0 L423.0 835.0 L424.0 835.0 L425.0 835.0 L426.0 835.0 L427.0 835.0 L428.0 835.0 L429.0 835.0 L430.0 835.0 L431.0 835.0 L432.0 835.0 L433.0 835.0 L434.0 835.0 L435.0 835.0 L436.0 835.0 L437.0 835.0 L438.0 835.0 L439.0 835.0 L440.0 835.0 L441.0 835.0 L442.0 835.0 L443.0 835.0 L444.0 835.0 L445.0 835.0 L446.0 835.0 L447.0 835.0 L448.0 835.0 L449.0 835.0 L450.0 835.0 L451.0 835.0 L452.0 835.0 L453.0 835.0 L454.0 835.0 L455.0 835.0 L456.0 835.0 L457.0 835.0 L458.0 835.0 L459.0 835.0 L460.0 835.0 L461.0 835.0 L462.0 835.0 L463.0 835.0 L464.0 835.0 L465.0 835.0 L466.0 835.0 L467.0 835.0 L468.0 835.0 L469.0 835.0 L470.0 835.0 L471.0 835.0 L472.0 835.0 L473.0 835.0 L474.0 835.0 L475.0 835.0 L476.0 835.0 L477.0 835.0 L478.0 835.0 L479.0 835.0 L480.0 835.0 L481.0 835.0 L482.0 835.0 L483.0 835.0 L484.0 835.0 L485.0 835.0 L486.0 835.0 L487.0 835.0 L488.0 835.0 L489.0 835.0 L490.0 835.0 L491.0 835.0 L492.0 835.0 L493.0 835.0 L494.0 835.0 L495.0 835.0 L496.0 835.0 L497.0 835.0 L498.0 835.0 L499.0 835.0 L500.0 835.0 L501.0 835.0 L502.0 835.0 L503.0 835.0 L504.0 835.0 L505.0 835.0 L506.0 835.0 L507.0 835.0 L508.0 835.0 L509.0 835.0 L510.0 835.0 L511.0 835.0 L512.0 835.0 L513.0 835.0 L514.0 835.0 L515.0 835.0 L516.0 835.0 L517.0 835.0 L518.0 835.0" fill="none" stroke="#8b6fe8" stroke-width="6.5" stroke-linejoin="round" stroke-linecap="round"/>
<path d="M260.7 742.3H325.7" stroke="#a892ee" stroke-width="3.5"/>
<text x="317.5" y="614" textLength="74" lengthAdjust="spacing" font-family="'Liberation Serif',serif" font-style="italic" font-size="35" fill="#111" stroke="#111" stroke-width="0.5">f<tspan font-style="normal">(</tspan>μ<tspan font-size="26" dy="7">x</tspan><tspan dy="-7" font-style="normal">)</tspan></text>
<text x="341.5" y="750.5" textLength="45.5" lengthAdjust="spacingAndGlyphs" font-family="'Liberation Serif',serif" font-size="40" fill="#8b6fe8" stroke="#8b6fe8" stroke-width="0.4">2<tspan font-style="italic">σ</tspan></text>
<text transform="translate(545.60 865.30) scale(0.9998 1)" font-family="'Liberation Serif',serif" font-size="38.19" font-weight="normal" font-style="italic" fill="#111" stroke="#111" stroke-width="0.5">x</text>
<text transform="translate(612.34 19.97) scale(0.9902 1)" font-family="'Liberation Sans',sans-serif" font-size="34.13" font-weight="bold" font-style="normal" fill="#000">c</text>
<text transform="translate(886.12 48.43) scale(1.0193 1)" font-family="'Liberation Sans',sans-serif" font-size="29.91" font-weight="normal" font-style="normal" fill="#000">DIGIT</text>
<defs><radialGradient id="ng" cx="0.4" cy="0.4" r="0.65"><stop offset="0" stop-color="#7a7a7a"/><stop offset="0.7" stop-color="#6a6a6a"/><stop offset="1" stop-color="#5a5a5a"/></radialGradient>
<linearGradient id="tan" x1="0" y1="0" x2="0" y2="1"><stop offset="0" stop-color="#ebe1bb"/><stop offset="1" stop-color="#fdfcf8"/></linearGradient></defs>
<circle cx="924.7" cy="257.2" r="63" fill="none" stroke="#8b6fe8" stroke-width="8.6" stroke-dasharray="8.5 8.7"/>
<path d="M689.2 83.6H747.5" stroke="#6e6e6e" stroke-width="5.6"/>
<path d="M747.5 83.6H805.8" stroke="#949494" stroke-width="5.6"/>
<path d="M805.8 83.6H864.1" stroke="#6e6e6e" stroke-width="5.6"/>
<path d="M864.1 83.6H922.4" stroke="#949494" stroke-width="5.6"/>
<path d="M922.4 83.6H980.7" stroke="#6e6e6e" stroke-width="5.6"/>
<path d="M980.7 83.6H1039.0" stroke="#949494" stroke-width="5.6"/>
<path d="M1039.0 83.6H1097.3" stroke="#6e6e6e" stroke-width="5.6"/>
<path d="M1097.3 83.6H1155.6" stroke="#949494" stroke-width="5.6"/>
<path d="M689.2 140.3H747.5" stroke="#949494" stroke-width="5.6"/>
<path d="M747.5 140.3H805.8" stroke="#6e6e6e" stroke-width="5.6"/>
<path d="M805.8 140.3H864.1" stroke="#949494" stroke-width="5.6"/>
<path d="M864.1 140.3H922.4" stroke="#6e6e6e" stroke-width="5.6"/>
<path d="M922.4 140.3H980.7" stroke="#949494" stroke-width="5.6"/>
<path d="M980.7 140.3H1039.0" stroke="#6e6e6e" stroke-width="5.6"/>
<path d="M1039.0 140.3H1097.3" stroke="#949494" stroke-width="5.6"/>
<path d="M1097.3 140.3H1155.6" stroke="#6e6e6e" stroke-width="5.6"/>
<path d="M689.2 197.1H747.5" stroke="#6e6e6e" stroke-width="5.6"/>
<path d="M747.5 197.1H805.8" stroke="#949494" stroke-width="5.6"/>
<path d="M805.8 197.1H864.1" stroke="#6e6e6e" stroke-width="5.6"/>
<path d="M864.1 197.1H922.4" stroke="#949494" stroke-width="5.6"/>
<path d="M922.4 197.1H980.7" stroke="#6e6e6e" stroke-width="5.6"/>
<path d="M980.7 197.1H1039.0" stroke="#949494" stroke-width="5.6"/>
<path d="M1039.0 197.1H1097.3" stroke="#6e6e6e" stroke-width="5.6"/>
<path d="M1097.3 197.1H1155.6" stroke="#949494" stroke-width="5.6"/>
<path d="M689.2 253.8H747.5" stroke="#949494" stroke-width="5.6"/>
<path d="M747.5 253.8H805.8" stroke="#6e6e6e" stroke-width="5.6"/>
<path d="M805.8 253.8H864.1" stroke="#949494" stroke-width="5.6"/>
<path d="M864.1 253.8H922.4" stroke="#6e6e6e" stroke-width="5.6"/>
<path d="M922.4 253.8H980.7" stroke="#949494" stroke-width="5.6"/>
<path d="M980.7 253.8H1039.0" stroke="#6e6e6e" stroke-width="5.6"/>
<path d="M1039.0 253.8H1097.3" stroke="#949494" stroke-width="5.6"/>
<path d="M1097.3 253.8H1155.6" stroke="#6e6e6e" stroke-width="5.6"/>
<path d="M689.2 310.6H747.5" stroke="#6e6e6e" stroke-width="5.6"/>
<path d="M747.5 310.6H805.8" stroke="#949494" stroke-width="5.6"/>
<path d="M805.8 310.6H864.1" stroke="#6e6e6e" stroke-width="5.6"/>
<path d="M864.1 310.6H922.4" stroke="#949494" stroke-width="5.6"/>
<path d="M922.4 310.6H980.7" stroke="#6e6e6e" stroke-width="5.6"/>
<path d="M980.7 310.6H1039.0" stroke="#949494" stroke-width="5.6"/>
<path d="M1039.0 310.6H1097.3" stroke="#6e6e6e" stroke-width="5.6"/>
<path d="M1097.3 310.6H1155.6" stroke="#949494" stroke-width="5.6"/>
<path d="M689.2 367.4H718.4" stroke="#6e6e6e" stroke-width="5.6"/>
<path d="M718.4 367.4H747.5" stroke="#949494" stroke-width="5.6"/>
<path d="M747.5 367.4H776.7" stroke="#6e6e6e" stroke-width="5.6"/>
<path d="M776.7 367.4H805.8" stroke="#949494" stroke-width="5.6"/>
<path d="M805.8 367.4H835.0" stroke="#6e6e6e" stroke-width="5.6"/>
<path d="M835.0 367.4H864.1" stroke="#949494" stroke-width="5.6"/>
<path d="M864.1 367.4H893.2" stroke="#6e6e6e" stroke-width="5.6"/>
<path d="M893.2 367.4H922.4" stroke="#949494" stroke-width="5.6"/>
<path d="M922.4 367.4H951.6" stroke="#6e6e6e" stroke-width="5.6"/>
<path d="M951.6 367.4H980.7" stroke="#949494" stroke-width="5.6"/>
<path d="M980.7 367.4H1009.9" stroke="#6e6e6e" stroke-width="5.6"/>
<path d="M1009.9 367.4H1039.0" stroke="#949494" stroke-width="5.6"/>
<path d="M1039.0 367.4H1068.2" stroke="#6e6e6e" stroke-width="5.6"/>
<path d="M1068.2 367.4H1097.3" stroke="#949494" stroke-width="5.6"/>
<path d="M1097.3 367.4H1126.4" stroke="#6e6e6e" stroke-width="5.6"/>
<path d="M1126.4 367.4H1155.6" stroke="#949494" stroke-width="5.6"/>
<path d="M689.2 424.1H747.5" stroke="#949494" stroke-width="5.6"/>
<path d="M747.5 424.1H805.8" stroke="#6e6e6e" stroke-width="5.6"/>
<path d="M805.8 424.1H864.1" stroke="#949494" stroke-width="5.6"/>
<path d="M864.1 424.1H922.4" stroke="#6e6e6e" stroke-width="5.6"/>
<path d="M922.4 424.1H980.7" stroke="#949494" stroke-width="5.6"/>
<path d="M980.7 424.1H1039.0" stroke="#6e6e6e" stroke-width="5.6"/>
<path d="M1039.0 424.1H1097.3" stroke="#949494" stroke-width="5.6"/>
<path d="M1097.3 424.1H1155.6" stroke="#6e6e6e" stroke-width="5.6"/>
<path d="M689.2 480.9H747.5" stroke="#6e6e6e" stroke-width="5.6"/>
<path d="M747.5 480.9H805.8" stroke="#949494" stroke-width="5.6"/>
<path d="M805.8 480.9H864.1" stroke="#6e6e6e" stroke-width="5.6"/>
<path d="M864.1 480.9H922.4" stroke="#949494" stroke-width="5.6"/>
<path d="M922.4 480.9H980.7" stroke="#6e6e6e" stroke-width="5.6"/>
<path d="M980.7 480.9H1039.0" stroke="#949494" stroke-width="5.6"/>
<path d="M1039.0 480.9H1097.3" stroke="#6e6e6e" stroke-width="5.6"/>
<path d="M1097.3 480.9H1155.6" stroke="#949494" stroke-width="5.6"/>
<path d="M689.2 69.6V480.9" stroke="#747474" stroke-width="4.9"/>
<path d="M688.9 69.6V480.9" stroke="#909090" stroke-width="1.8"/>
<path d="M747.5 69.6V480.9" stroke="#747474" stroke-width="4.9"/>
<path d="M747.2 69.6V480.9" stroke="#909090" stroke-width="1.8"/>
<path d="M805.8 69.6V480.9" stroke="#747474" stroke-width="4.9"/>
<path d="M805.5 69.6V480.9" stroke="#909090" stroke-width="1.8"/>
<path d="M864.1 69.6V480.9" stroke="#747474" stroke-width="4.9"/>
<path d="M863.8 69.6V480.9" stroke="#909090" stroke-width="1.8"/>
<path d="M922.4 69.6V480.9" stroke="#747474" stroke-width="4.9"/>
<path d="M922.1 69.6V480.9" stroke="#909090" stroke-width="1.8"/>
<path d="M980.7 69.6V480.9" stroke="#747474" stroke-width="4.9"/>
<path d="M980.4 69.6V480.9" stroke="#909090" stroke-width="1.8"/>
<path d="M1039.0 69.6V480.9" stroke="#747474" stroke-width="4.9"/>
<path d="M1038.7 69.6V480.9" stroke="#909090" stroke-width="1.8"/>
<path d="M1097.3 69.6V480.9" stroke="#747474" stroke-width="4.9"/>
<path d="M1097.0 69.6V480.9" stroke="#909090" stroke-width="1.8"/>
<path d="M1155.6 69.6V480.9" stroke="#747474" stroke-width="4.9"/>
<path d="M1155.3 69.6V480.9" stroke="#909090" stroke-width="1.8"/>
<circle cx="689.2" cy="83.6" r="11" fill="url(#ng)"/>
<circle cx="747.5" cy="83.6" r="11" fill="url(#ng)"/>
<circle cx="805.8" cy="83.6" r="11" fill="url(#ng)"/>
<circle cx="864.1" cy="83.6" r="11" fill="url(#ng)"/>
<circle cx="922.4" cy="83.6" r="11" fill="url(#ng)"/>
<circle cx="980.7" cy="83.6" r="11" fill="url(#ng)"/>
<circle cx="1039.0" cy="83.6" r="11" fill="url(#ng)"/>
<circle cx="1097.3" cy="83.6" r="11" fill="url(#ng)"/>
<circle cx="1155.6" cy="83.6" r="11" fill="url(#ng)"/>
<circle cx="689.2" cy="140.3" r="11" fill="url(#ng)"/>
<circle cx="747.5" cy="140.3" r="11" fill="url(#ng)"/>
<circle cx="805.8" cy="140.3" r="11" fill="url(#ng)"/>
<circle cx="864.1" cy="140.3" r="11" fill="url(#ng)"/>
<circle cx="922.4" cy="140.3" r="11" fill="url(#ng)"/>
<circle cx="980.7" cy="140.3" r="11" fill="url(#ng)"/>
<circle cx="1039.0" cy="140.3" r="11" fill="url(#ng)"/>
<circle cx="1097.3" cy="140.3" r="11" fill="url(#ng)"/>
<circle cx="1155.6" cy="140.3" r="11" fill="url(#ng)"/>
<circle cx="689.2" cy="197.1" r="11" fill="url(#ng)"/>
<circle cx="747.5" cy="197.1" r="11" fill="url(#ng)"/>
<circle cx="805.8" cy="197.1" r="11" fill="url(#ng)"/>
<circle cx="864.1" cy="197.1" r="11" fill="url(#ng)"/>
<circle cx="922.4" cy="197.1" r="11" fill="url(#ng)"/>
<circle cx="980.7" cy="197.1" r="11" fill="url(#ng)"/>
<circle cx="1039.0" cy="197.1" r="11" fill="url(#ng)"/>
<circle cx="1097.3" cy="197.1" r="11" fill="url(#ng)"/>
<circle cx="1155.6" cy="197.1" r="11" fill="url(#ng)"/>
<circle cx="689.2" cy="253.8" r="11" fill="url(#ng)"/>
<circle cx="747.5" cy="253.8" r="11" fill="url(#ng)"/>
<circle cx="805.8" cy="253.8" r="11" fill="url(#ng)"/>
<circle cx="864.1" cy="253.8" r="11" fill="url(#ng)"/>
<circle cx="922.4" cy="253.8" r="11" fill="url(#ng)"/>
<circle cx="980.7" cy="253.8" r="11" fill="url(#ng)"/>
<circle cx="1039.0" cy="253.8" r="11" fill="url(#ng)"/>
<circle cx="1097.3" cy="253.8" r="11" fill="url(#ng)"/>
<circle cx="1155.6" cy="253.8" r="11" fill="url(#ng)"/>
<circle cx="689.2" cy="310.6" r="11" fill="url(#ng)"/>
<circle cx="747.5" cy="310.6" r="11" fill="url(#ng)"/>
<circle cx="805.8" cy="310.6" r="11" fill="url(#ng)"/>
<circle cx="864.1" cy="310.6" r="11" fill="url(#ng)"/>
<circle cx="922.4" cy="310.6" r="11" fill="url(#ng)"/>
<circle cx="980.7" cy="310.6" r="11" fill="url(#ng)"/>
<circle cx="1039.0" cy="310.6" r="11" fill="url(#ng)"/>
<circle cx="1097.3" cy="310.6" r="11" fill="url(#ng)"/>
<circle cx="1155.6" cy="310.6" r="11" fill="url(#ng)"/>
<circle cx="689.2" cy="367.4" r="11" fill="url(#ng)"/>
<circle cx="747.5" cy="367.4" r="11" fill="url(#ng)"/>
<circle cx="805.8" cy="367.4" r="11" fill="url(#ng)"/>
<circle cx="864.1" cy="367.4" r="11" fill="url(#ng)"/>
<circle cx="922.4" cy="367.4" r="11" fill="url(#ng)"/>
<circle cx="980.7" cy="367.4" r="11" fill="url(#ng)"/>
<circle cx="1039.0" cy="367.4" r="11" fill="url(#ng)"/>
<circle cx="1097.3" cy="367.4" r="11" fill="url(#ng)"/>
<circle cx="1155.6" cy="367.4" r="11" fill="url(#ng)"/>
<circle cx="689.2" cy="424.1" r="11" fill="url(#ng)"/>
<circle cx="747.5" cy="424.1" r="11" fill="url(#ng)"/>
<circle cx="805.8" cy="424.1" r="11" fill="url(#ng)"/>
<circle cx="864.1" cy="424.1" r="11" fill="url(#ng)"/>
<circle cx="922.4" cy="424.1" r="11" fill="url(#ng)"/>
<circle cx="980.7" cy="424.1" r="11" fill="url(#ng)"/>
<circle cx="1039.0" cy="424.1" r="11" fill="url(#ng)"/>
<circle cx="1097.3" cy="424.1" r="11" fill="url(#ng)"/>
<circle cx="1155.6" cy="424.1" r="11" fill="url(#ng)"/>
<circle cx="689.2" cy="480.9" r="11" fill="url(#ng)"/>
<circle cx="747.5" cy="480.9" r="11" fill="url(#ng)"/>
<circle cx="805.8" cy="480.9" r="11" fill="url(#ng)"/>
<circle cx="864.1" cy="480.9" r="11" fill="url(#ng)"/>
<circle cx="922.4" cy="480.9" r="11" fill="url(#ng)"/>
<circle cx="980.7" cy="480.9" r="11" fill="url(#ng)"/>
<circle cx="1039.0" cy="480.9" r="11" fill="url(#ng)"/>
<circle cx="1097.3" cy="480.9" r="11" fill="url(#ng)"/>
<circle cx="1155.6" cy="480.9" r="11" fill="url(#ng)"/>
<rect x="1045.8" y="66" width="48.6" height="30" fill="#fff"/>
<circle cx="922.3" cy="254.6" r="11.4" fill="#cd1b1b"/>
<path d="M1037.6 118.5h6.6v51.7h-6.6z M1096 118.5h6.6v51.7h-6.6z M1041 138h58v7.4h-58z" fill="#d31b20"/>
<text transform="translate(1061.20 125.28) scale(0.9622 1)" font-family="'Liberation Sans',sans-serif" font-size="33.07" font-weight="bold" font-style="normal" fill="#8b6fe8">a</text>
<path d="M689.2 83.6H735 M689.2 83.6V128" stroke="#8b6fe8" stroke-width="3.2" fill="none"/>
<path d="M748 83.6l-18 -7.5l3.5 7.5l-3.5 7.5z M689.2 143l-7.5 -18l7.5 3.5l7.5 -3.5z" fill="#8b6fe8"/>
<text transform="translate(725.48 64.48) scale(0.9950 1)" font-family="'Liberation Sans',sans-serif" font-size="27.20" font-weight="bold" font-style="normal" fill="#8b6fe8">a</text>
<text transform="translate(741.64 70.20) scale(0.9000 1)" font-family="'Liberation Sans',sans-serif" font-size="20.62" font-weight="bold" font-style="normal" fill="#8b6fe8">1</text>
<text transform="translate(647.88 141.67) scale(0.9818 1)" font-family="'Liberation Sans',sans-serif" font-size="27.38" font-weight="bold" font-style="normal" fill="#8b6fe8">a</text>
<text transform="translate(663.93 147.00) scale(1.0262 1)" font-family="'Liberation Sans',sans-serif" font-size="21.05" font-weight="bold" font-style="normal" fill="#8b6fe8">2</text>
<text transform="translate(611.90 529.06) scale(1.0261 1)" font-family="'Liberation Sans',sans-serif" font-size="34.40" font-weight="bold" font-style="normal" fill="#000">d</text>
<path d="M691.0 838.4 L692.0 838.4 L693.0 838.4 L694.0 838.4 L695.0 838.4 L696.0 838.4 L697.0 838.4 L698.0 838.4 L699.0 838.4 L700.0 838.4 L701.0 838.4 L702.0 838.4 L703.0 838.4 L704.0 838.4 L705.0 838.4 L706.0 838.4 L707.0 838.4 L708.0 838.4 L709.0 838.4 L710.0 838.4 L711.0 838.4 L712.0 838.4 L713.0 838.4 L714.0 838.4 L715.0 838.4 L716.0 838.4 L717.0 838.4 L718.0 838.4 L719.0 838.4 L720.0 838.4 L721.0 838.4 L722.0 838.4 L723.0 838.4 L724.0 838.4 L725.0 838.4 L726.0 838.4 L727.0 838.4 L728.0 838.4 L729.0 838.4 L730.0 838.4 L731.0 838.4 L732.0 838.4 L733.0 838.4 L734.0 838.4 L735.0 838.4 L736.0 838.4 L737.0 838.4 L738.0 838.4 L739.0 838.4 L740.0 838.4 L741.0 838.4 L742.0 838.4 L743.0 838.4 L744.0 838.4 L745.0 838.4 L746.0 838.4 L747.0 838.4 L748.0 838.4 L749.0 838.4 L750.0 838.4 L751.0 838.4 L752.0 838.4 L753.0 838.4 L754.0 838.4 L755.0 838.4 L756.0 838.4 L757.0 838.4 L758.0 838.4 L759.0 838.4 L760.0 838.4 L761.0 838.4 L762.0 838.4 L763.0 838.4 L764.0 838.4 L765.0 838.4 L766.0 838.4 L767.0 838.4 L768.0 838.4 L769.0 838.4 L770.0 838.4 L771.0 838.4 L772.0 838.4 L773.0 838.4 L774.0 838.4 L775.0 838.4 L776.0 838.4 L777.0 838.4 L778.0 838.4 L779.0 838.4 L780.0 838.4 L781.0 838.4 L782.0 838.4 L783.0 838.4 L784.0 838.4 L785.0 838.4 L786.0 838.4 L787.0 838.4 L788.0 838.4 L789.0 838.4 L790.0 838.4 L791.0 838.4 L792.0 838.4 L793.0 838.4 L794.0 838.4 L795.0 838.4 L796.0 838.3 L797.0 838.3 L798.0 838.3 L799.0 838.3 L800.0 838.3 L801.0 838.3 L802.0 838.3 L803.0 838.3 L804.0 838.3 L805.0 838.2 L806.0 838.2 L807.0 838.2 L808.0 838.2 L809.0 838.1 L810.0 838.1 L811.0 838.1 L812.0 838.0 L813.0 838.0 L814.0 838.0 L815.0 837.9 L816.0 837.9 L817.0 837.8 L818.0 837.7 L819.0 837.7 L820.0 837.6 L821.0 837.5 L822.0 837.4 L823.0 837.3 L824.0 837.2 L825.0 837.1 L826.0 836.9 L827.0 836.8 L828.0 836.7 L829.0 836.5 L830.0 836.3 L831.0 836.1 L832.0 835.9 L833.0 835.7 L834.0 835.4 L835.0 835.1 L836.0 834.9 L837.0 834.5 L838.0 834.2 L839.0 833.9 L840.0 833.5 L841.0 833.1 L842.0 832.6 L843.0 832.2 L844.0 831.7 L845.0 831.1 L846.0 830.6 L847.0 830.0 L848.0 829.3 L849.0 828.6 L850.0 827.9 L851.0 827.2 L852.0 826.3 L853.0 825.5 L854.0 824.6 L855.0 823.7 L856.0 822.7 L857.0 821.6 L858.0 820.5 L859.0 819.4 L860.0 818.2 L861.0 816.9 L862.0 815.6 L863.0 814.3 L864.0 812.9 L865.0 811.4 L866.0 809.9 L867.0 808.3 L868.0 806.6 L869.0 804.9 L870.0 803.2 L871.0 801.3 L872.0 799.5 L873.0 797.5 L874.0 795.6 L875.0 793.5 L876.0 791.5 L877.0 789.3 L878.0 787.2 L879.0 784.9 L880.0 782.7 L881.0 780.4 L882.0 778.1 L883.0 775.7 L884.0 773.3 L885.0 770.9 L886.0 768.5 L887.0 766.0 L888.0 763.6 L889.0 761.1 L890.0 758.6 L891.0 756.2 L892.0 753.7 L893.0 751.2 L894.0 748.8 L895.0 746.4 L896.0 744.0 L897.0 741.7 L898.0 739.4 L899.0 737.1 L900.0 734.9 L901.0 732.8 L902.0 730.7 L903.0 728.7 L904.0 726.7 L905.0 724.8 L906.0 723.1 L907.0 721.4 L908.0 719.7 L909.0 718.2 L910.0 716.8 L911.0 715.5 L912.0 714.3 L913.0 713.2 L914.0 712.3 L915.0 711.4 L916.0 710.7 L917.0 710.1 L918.0 709.6 L919.0 709.2 L920.0 709.0 L921.0 708.9 L922.0 708.9 L923.0 709.1 L924.0 709.4 L925.0 709.8 L926.0 710.3 L927.0 711.0 L928.0 711.7 L929.0 712.6 L930.0 713.7 L931.0 714.8 L932.0 716.0 L933.0 717.4 L934.0 718.8 L935.0 720.4 L936.0 722.0 L937.0 723.8 L938.0 725.6 L939.0 727.5 L940.0 729.5 L941.0 731.5 L942.0 733.6 L943.0 735.8 L944.0 738.0 L945.0 740.3 L946.0 742.6 L947.0 745.0 L948.0 747.4 L949.0 749.8 L950.0 752.2 L951.0 754.7 L952.0 757.1 L953.0 759.6 L954.0 762.1 L955.0 764.5 L956.0 767.0 L957.0 769.4 L958.0 771.9 L959.0 774.3 L960.0 776.6 L961.0 779.0 L962.0 781.3 L963.0 783.6 L964.0 785.8 L965.0 788.0 L966.0 790.2 L967.0 792.3 L968.0 794.3 L969.0 796.4 L970.0 798.3 L971.0 800.2 L972.0 802.1 L973.0 803.9 L974.0 805.6 L975.0 807.3 L976.0 808.9 L977.0 810.5 L978.0 812.0 L979.0 813.4 L980.0 814.8 L981.0 816.2 L982.0 817.5 L983.0 818.7 L984.0 819.9 L985.0 821.0 L986.0 822.1 L987.0 823.1 L988.0 824.0 L989.0 825.0 L990.0 825.8 L991.0 826.7 L992.0 827.5 L993.0 828.2 L994.0 828.9 L995.0 829.6 L996.0 830.2 L997.0 830.8 L998.0 831.3 L999.0 831.9 L1000.0 832.3 L1001.0 832.8 L1002.0 833.2 L1003.0 833.6 L1004.0 834.0 L1005.0 834.3 L1006.0 834.7 L1007.0 835.0 L1008.0 835.3 L1009.0 835.5 L1010.0 835.8 L1011.0 836.0 L1012.0 836.2 L1013.0 836.4 L1014.0 836.6 L1015.0 836.7 L1016.0 836.9 L1017.0 837.0 L1018.0 837.1 L1019.0 837.2 L1020.0 837.4 L1021.0 837.4 L1022.0 837.5 L1023.0 837.6 L1024.0 837.7 L1025.0 837.8 L1026.0 837.8 L1027.0 837.9 L1028.0 837.9 L1029.0 838.0 L1030.0 838.0 L1031.0 838.1 L1032.0 838.1 L1033.0 838.1 L1034.0 838.2 L1035.0 838.2 L1036.0 838.2 L1037.0 838.2 L1038.0 838.2 L1039.0 838.3 L1040.0 838.3 L1041.0 838.3 L1042.0 838.3 L1043.0 838.3 L1044.0 838.3 L1045.0 838.3 L1046.0 838.3 L1047.0 838.3 L1048.0 838.4 L1049.0 838.4 L1050.0 838.4 L1051.0 838.4 L1052.0 838.4 L1053.0 838.4 L1054.0 838.4 L1055.0 838.4 L1056.0 838.4 L1057.0 838.4 L1058.0 838.4 L1059.0 838.4 L1060.0 838.4 L1061.0 838.4 L1062.0 838.4 L1063.0 838.4 L1064.0 838.4 L1065.0 838.4 L1066.0 838.4 L1067.0 838.4 L1068.0 838.4 L1069.0 838.4 L1070.0 838.4 L1071.0 838.4 L1072.0 838.4 L1073.0 838.4 L1074.0 838.4 L1075.0 838.4 L1076.0 838.4 L1077.0 838.4 L1078.0 838.4 L1079.0 838.4 L1080.0 838.4 L1081.0 838.4 L1082.0 838.4 L1083.0 838.4 L1084.0 838.4 L1085.0 838.4 L1086.0 838.4 L1087.0 838.4 L1088.0 838.4 L1089.0 838.4 L1090.0 838.4 L1091.0 838.4 L1092.0 838.4 L1093.0 838.4 L1094.0 838.4 L1095.0 838.4 L1096.0 838.4 L1097.0 838.4 L1098.0 838.4 L1099.0 838.4 L1100.0 838.4 L1101.0 838.4 L1102.0 838.4 L1103.0 838.4 L1104.0 838.4 L1105.0 838.4 L1106.0 838.4 L1107.0 838.4 L1108.0 838.4 L1109.0 838.4 L1110.0 838.4 L1111.0 838.4 L1112.0 838.4 L1113.0 838.4 L1114.0 838.4 L1115.0 838.4 L1116.0 838.4 L1117.0 838.4 L1118.0 838.4 L1119.0 838.4 L1120.0 838.4 L1121.0 838.4 L1122.0 838.4 L1123.0 838.4 L1124.0 838.4 L1125.0 838.4 L1126.0 838.4 L1127.0 838.4 L1128.0 838.4 L1129.0 838.4 L1130.0 838.4 L1131.0 838.4 L1132.0 838.4 L1133.0 838.4 L1134.0 838.4 L1135.0 838.4 L1136.0 838.4 L1137.0 838.4 L1138.0 838.4 L1139.0 838.4 L1140.0 838.4 L1141.0 838.4 L1142.0 838.4 L1143.0 838.4 L1144.0 838.4 L1145.0 838.4 L1146.0 838.4 L1147.0 838.4 L1148.0 838.4 L1149.0 838.4 L1150.0 838.4" fill="none" stroke="#a48eee" stroke-width="6.3" stroke-dasharray="12.5 13.5" stroke-dashoffset="-3"/>
<path d="M745.3 482.4V761.0" stroke="#2e2e2e" stroke-width="2.5" stroke-dasharray="4.2 4.4"/>
<path d="M745.3 761.3V840.2" stroke="#0a0a0a" stroke-width="4.2"/>
<path d="M804.4 482.4V761.0" stroke="#2e2e2e" stroke-width="2.5" stroke-dasharray="4.2 4.4"/>
<path d="M804.4 761.3V840.2" stroke="#0a0a0a" stroke-width="4.2"/>
<path d="M863.5 482.4V761.0" stroke="#2e2e2e" stroke-width="2.5" stroke-dasharray="4.2 4.4"/>
<path d="M863.5 761.3V840.2" stroke="#0a0a0a" stroke-width="4.2"/>
<path d="M922.6 482.4V594.0" stroke="#2e2e2e" stroke-width="2.5" stroke-dasharray="4.2 4.4"/>
<path d="M981.7 482.4V761.0" stroke="#2e2e2e" stroke-width="2.5" stroke-dasharray="4.2 4.4"/>
<path d="M981.7 761.3V840.2" stroke="#0a0a0a" stroke-width="4.2"/>
<path d="M1040.8 482.4V761.0" stroke="#2e2e2e" stroke-width="2.5" stroke-dasharray="4.2 4.4"/>
<path d="M1040.8 761.3V840.2" stroke="#0a0a0a" stroke-width="4.2"/>
<path d="M1099.9 482.4V761.0" stroke="#2e2e2e" stroke-width="2.5" stroke-dasharray="4.2 4.4"/>
<path d="M1099.9 761.3V840.2" stroke="#0a0a0a" stroke-width="4.2"/>
<path d="M663 840.2H1172" stroke="#222" stroke-width="2.3"/>
<path d="M1186 840.2l-19 -8.5l4 8.5l-4 8.5z" fill="#222"/>
<path d="M922.6 840.2V612" stroke="#111" stroke-width="2.2"/>
<path d="M922.6 593.8l-8 19.5l8 -4l8 4z" fill="#111"/>
<path d="M723.4 840.2v-7" stroke="#222" stroke-width="1.6"/>
<path d="M823.4 840.2v-7" stroke="#222" stroke-width="1.6"/>
<path d="M1023.4 840.2v-7" stroke="#222" stroke-width="1.6"/>
<path d="M1123.9 840.2v-7" stroke="#222" stroke-width="1.6"/>
<path d="M918.3 682.4h8.6V841.2h-8.6z M859.2 804.4h8.6V841.2h-8.6z M977.4 804.4h8.6V841.2h-8.6z" fill="#16c148"/>
<text transform="translate(924.71 584.89) scale(1.0124 1)" font-family="'Liberation Sans',sans-serif" font-size="30.22" font-weight="normal" font-style="normal" fill="#000">P(x)</text>
<text transform="translate(1174.98 871.30) scale(1.0616 1)" font-family="'Liberation Serif',serif" font-size="40.75" font-weight="normal" font-style="italic" fill="#111" stroke="#111" stroke-width="0.5">x</text>
<path d="M660.2 420V508H748" stroke="#8b6fe8" stroke-width="3.6" fill="none"/>
<path d="M660.2 396.5l-12 27.5l12 -3l12 3z M769.8 508l-26.5 -11.7l3 11.7l-3 11.7z" fill="#8b6fe8"/>
<text transform="translate(654.26 386.03) scale(0.9187 1)" font-family="'Liberation Serif',serif" font-size="37.82" font-weight="normal" font-style="italic" fill="#8b6fe8" stroke="#8b6fe8" stroke-width="0.5">y</text>
<text transform="translate(773.92 516.00) scale(1.0120 1)" font-family="'Liberation Serif',serif" font-size="39.25" font-weight="normal" font-style="italic" fill="#8b6fe8" stroke="#8b6fe8" stroke-width="0.5">x</text>
<text transform="translate(1201.72 19.15) scale(0.9886 1)" font-family="'Liberation Sans',sans-serif" font-size="35.00" font-weight="bold" font-style="normal" fill="#000">e</text>
<circle cx="1531.6" cy="115.4" r="4.4" fill="#c0a4e8"/>
<circle cx="1525.3" cy="135.4" r="4.4" fill="#c0a4e8"/>
<circle cx="1532.8" cy="135.4" r="4.4" fill="#c0a4e8"/>
<circle cx="1524.0" cy="141.3" r="4.4" fill="#c0a4e8"/>
<circle cx="1515.2" cy="148.7" r="4.4" fill="#c0a4e8"/>
<circle cx="1525.9" cy="152.2" r="4.4" fill="#c0a4e8"/>
<circle cx="1503.2" cy="164.7" r="4.4" fill="#c0a4e8"/>
<circle cx="1502.4" cy="176.5" r="4.4" fill="#c0a4e8"/>
<circle cx="1559.6" cy="155.9" r="4.4" fill="#c0a4e8"/>
<circle cx="1569.4" cy="162.0" r="4.4" fill="#c0a4e8"/>
<circle cx="1568.4" cy="176.1" r="4.4" fill="#c0a4e8"/>
<circle cx="1604.2" cy="175.5" r="4.4" fill="#c0a4e8"/>
<circle cx="1589.3" cy="182.5" r="4.4" fill="#c0a4e8"/>
<circle cx="1583.0" cy="186.8" r="4.4" fill="#c0a4e8"/>
<circle cx="1581.5" cy="194.7" r="4.4" fill="#c0a4e8"/>
<circle cx="1573.7" cy="197.6" r="4.4" fill="#c0a4e8"/>
<circle cx="1575.2" cy="201.9" r="4.4" fill="#c0a4e8"/>
<circle cx="1582.7" cy="206.0" r="4.4" fill="#c0a4e8"/>
<circle cx="1501.8" cy="188.8" r="4.4" fill="#c0a4e8"/>
<circle cx="1494.0" cy="189.4" r="4.4" fill="#c0a4e8"/>
<circle cx="1489.1" cy="192.1" r="4.4" fill="#c0a4e8"/>
<circle cx="1497.9" cy="197.0" r="4.4" fill="#c0a4e8"/>
<circle cx="1478.4" cy="198.2" r="4.4" fill="#c0a4e8"/>
<circle cx="1526.3" cy="218.5" r="4.4" fill="#c0a4e8"/>
<circle cx="1525.3" cy="225.0" r="4.4" fill="#c0a4e8"/>
<circle cx="1525.3" cy="227.9" r="4.4" fill="#c0a4e8"/>
<circle cx="1514.2" cy="234.8" r="4.4" fill="#c0a4e8"/>
<circle cx="1539.0" cy="241.6" r="4.4" fill="#c0a4e8"/>
<circle cx="1516.1" cy="249.9" r="4.4" fill="#c0a4e8"/>
<circle cx="1572.9" cy="123.3" r="4.4" fill="#da70e8"/>
<circle cx="1500.9" cy="133.0" r="4.4" fill="#da70e8"/>
<circle cx="1502.4" cy="137.9" r="4.4" fill="#da70e8"/>
<circle cx="1483.8" cy="143.8" r="4.4" fill="#da70e8"/>
<circle cx="1489.5" cy="155.2" r="4.4" fill="#da70e8"/>
<circle cx="1565.0" cy="151.0" r="4.4" fill="#da70e8"/>
<circle cx="1567.0" cy="152.6" r="4.4" fill="#da70e8"/>
<circle cx="1478.0" cy="216.6" r="4.4" fill="#da70e8"/>
<circle cx="1497.5" cy="222.5" r="4.4" fill="#da70e8"/>
<circle cx="1503.2" cy="227.9" r="4.4" fill="#da70e8"/>
<circle cx="1564.5" cy="219.1" r="4.4" fill="#da70e8"/>
<circle cx="1576.6" cy="230.3" r="4.4" fill="#da70e8"/>
<circle cx="1563.9" cy="238.7" r="4.4" fill="#da70e8"/>
<circle cx="1581.1" cy="243.0" r="4.4" fill="#da70e8"/>
<circle cx="1512.6" cy="162.4" r="4.4" fill="#8b6fe8"/>
<circle cx="1525.7" cy="158.5" r="4.4" fill="#8b6fe8"/>
<circle cx="1507.1" cy="170.6" r="4.4" fill="#8b6fe8"/>
<circle cx="1518.5" cy="168.8" r="4.4" fill="#8b6fe8"/>
<circle cx="1520.4" cy="176.5" r="4.4" fill="#8b6fe8"/>
<circle cx="1512.6" cy="179.0" r="4.4" fill="#8b6fe8"/>
<circle cx="1513.6" cy="182.0" r="4.4" fill="#8b6fe8"/>
<circle cx="1513.0" cy="189.8" r="4.4" fill="#8b6fe8"/>
<circle cx="1531.2" cy="165.3" r="4.4" fill="#8b6fe8"/>
<circle cx="1536.1" cy="167.3" r="4.4" fill="#8b6fe8"/>
<circle cx="1542.0" cy="160.4" r="4.4" fill="#8b6fe8"/>
<circle cx="1545.3" cy="165.3" r="4.4" fill="#8b6fe8"/>
<circle cx="1534.1" cy="173.2" r="4.4" fill="#8b6fe8"/>
<circle cx="1542.0" cy="172.2" r="4.4" fill="#8b6fe8"/>
<circle cx="1551.7" cy="174.1" r="4.4" fill="#8b6fe8"/>
<circle cx="1557.6" cy="168.3" r="4.4" fill="#8b6fe8"/>
<circle cx="1562.5" cy="162.4" r="4.4" fill="#8b6fe8"/>
<circle cx="1561.9" cy="176.1" r="4.4" fill="#8b6fe8"/>
<circle cx="1558.6" cy="181.0" r="4.4" fill="#8b6fe8"/>
<circle cx="1547.8" cy="180.0" r="4.4" fill="#8b6fe8"/>
<circle cx="1542.0" cy="182.0" r="4.4" fill="#8b6fe8"/>
<circle cx="1536.1" cy="185.9" r="4.4" fill="#8b6fe8"/>
<circle cx="1542.0" cy="186.8" r="4.4" fill="#8b6fe8"/>
<circle cx="1547.8" cy="185.9" r="4.4" fill="#8b6fe8"/>
<circle cx="1553.7" cy="183.9" r="4.4" fill="#8b6fe8"/>
<circle cx="1561.5" cy="189.8" r="4.4" fill="#8b6fe8"/>
<circle cx="1557.6" cy="192.7" r="4.4" fill="#8b6fe8"/>
<circle cx="1555.7" cy="197.6" r="4.4" fill="#8b6fe8"/>
<circle cx="1556.6" cy="202.5" r="4.4" fill="#8b6fe8"/>
<circle cx="1547.8" cy="194.7" r="4.4" fill="#8b6fe8"/>
<circle cx="1542.0" cy="197.6" r="4.4" fill="#8b6fe8"/>
<circle cx="1541.0" cy="202.5" r="4.4" fill="#8b6fe8"/>
<circle cx="1543.9" cy="205.4" r="4.4" fill="#8b6fe8"/>
<circle cx="1534.1" cy="195.7" r="4.4" fill="#8b6fe8"/>
<circle cx="1530.2" cy="197.6" r="4.4" fill="#8b6fe8"/>
<circle cx="1525.3" cy="197.6" r="4.4" fill="#8b6fe8"/>
<circle cx="1524.3" cy="202.5" r="4.4" fill="#8b6fe8"/>
<circle cx="1518.5" cy="199.6" r="4.4" fill="#8b6fe8"/>
<circle cx="1516.5" cy="204.5" r="4.4" fill="#8b6fe8"/>
<circle cx="1515.5" cy="208.4" r="4.4" fill="#8b6fe8"/>
<circle cx="1509.1" cy="202.5" r="4.4" fill="#8b6fe8"/>
<circle cx="1512.6" cy="206.4" r="4.4" fill="#8b6fe8"/>
<circle cx="1539.6" cy="213.3" r="4.4" fill="#8b6fe8"/>
<circle cx="1566.8" cy="204.5" r="4.4" fill="#8b6fe8"/>
<circle cx="1563.1" cy="210.7" r="4.4" fill="#8b6fe8"/>
<path d="M1376.8 86V286" stroke="#505050" stroke-opacity="0.32" stroke-width="2.1"/>
<path d="M1430.0 86V286" stroke="#505050" stroke-opacity="0.32" stroke-width="2.1"/>
<path d="M1482.5 86V286" stroke="#505050" stroke-opacity="0.32" stroke-width="2.1"/>
<path d="M1535.3 86V286" stroke="#505050" stroke-opacity="0.32" stroke-width="2.1"/>
<path d="M1588.5 86V286" stroke="#505050" stroke-opacity="0.32" stroke-width="2.1"/>
<path d="M1640.9 86V286" stroke="#505050" stroke-opacity="0.32" stroke-width="2.1"/>
<path d="M1694.1 86V286" stroke="#505050" stroke-opacity="0.32" stroke-width="2.1"/>
<path d="M1318 136.2H1749" stroke="#505050" stroke-opacity="0.32" stroke-width="2.1"/>
<path d="M1318 186.3H1749" stroke="#505050" stroke-opacity="0.32" stroke-width="2.1"/>
<path d="M1318 236.2H1749" stroke="#505050" stroke-opacity="0.32" stroke-width="2.1"/>
<rect x="1317.6" y="86.2" width="431.9" height="200.6" fill="none" stroke="#141414" stroke-width="2.3"/>
<rect x="1317.6" y="303.9" width="431.9" height="165.6" fill="none" stroke="#0a0a0a" stroke-width="2.3"/>
<text transform="translate(1328.06 114.71) scale(0.9596 1)" font-family="'Liberation Sans',sans-serif" font-size="31.44" font-weight="normal" font-style="normal" fill="#000">SMLM</text>
<text transform="translate(1328.50 336.02) scale(0.9890 1)" font-family="'Liberation Sans',sans-serif" font-size="31.03" font-weight="normal" font-style="normal" fill="#000">DIGIT</text>
<circle cx="1483.9" cy="336.5" r="5.9" fill="#5dd680"/>
<circle cx="1535.3" cy="336.5" r="5.4" fill="#5dd680"/>
<circle cx="1586.7" cy="336.5" r="3.3" fill="#5dd680"/>
<circle cx="1483.9" cy="387.7" r="7.2" fill="#5dd680"/>
<circle cx="1535.3" cy="387.7" r="13.4" fill="#16c148"/>
<circle cx="1586.7" cy="387.7" r="7.0" fill="#5dd680"/>
<circle cx="1483.9" cy="439.1" r="4.4" fill="#5dd680"/>
<circle cx="1535.3" cy="439.1" r="6.2" fill="#5dd680"/>
<circle cx="1586.7" cy="439.1" r="4.1" fill="#5dd680"/>
<text transform="translate(1204.51 533.80) scale(1.1146 1)" font-family="'Liberation Sans',sans-serif" font-size="33.91" font-weight="bold" font-style="normal" fill="#000">f</text>
<rect x="1314" y="596.3" width="434.0" height="239.1" fill="url(#tan)"/>
<path d="M1315.8 594.6H1748.0" stroke="#cdcdcd" stroke-width="2.8"/>
<path d="M1518.9 522.7V835.4" stroke="#8c8a80" stroke-opacity="0.6" stroke-width="2.8"/>
<path d="M1346.4 525.7V594" stroke="#c2c2c2" stroke-width="2.3" stroke-dasharray="2.3 5.65" stroke-dashoffset="-1"/>
<path d="M1346.4 598V835.4" stroke="#a8a596" stroke-opacity="0.9" stroke-width="2.8" stroke-dasharray="2.8 5.15"/>
<path d="M1432.4 525.7V594" stroke="#c2c2c2" stroke-width="2.3" stroke-dasharray="2.3 5.65" stroke-dashoffset="-1"/>
<path d="M1432.4 598V835.4" stroke="#a8a596" stroke-opacity="0.9" stroke-width="2.8" stroke-dasharray="2.8 5.15"/>
<path d="M1605.2 525.7V594" stroke="#c2c2c2" stroke-width="2.3" stroke-dasharray="2.3 5.65" stroke-dashoffset="-1"/>
<path d="M1605.2 598V835.4" stroke="#a8a596" stroke-opacity="0.9" stroke-width="2.8" stroke-dasharray="2.8 5.15"/>
<path d="M1691.4 525.7V594" stroke="#c2c2c2" stroke-width="2.3" stroke-dasharray="2.3 5.65" stroke-dashoffset="-1"/>
<path d="M1691.4 598V835.4" stroke="#a8a596" stroke-opacity="0.9" stroke-width="2.8" stroke-dasharray="2.8 5.15"/>
<path d="M1324.8 546.8H1748.0" stroke="#c2c2c2" stroke-width="2.3" stroke-dasharray="2.3 5.2"/>
<path d="M1748.0 546.8h-5 M1315.8 546.8h5" stroke="#111" stroke-width="2.4"/>
<path d="M1324.8 642.2H1748.0" stroke="#a8a596" stroke-opacity="0.9" stroke-width="2.8" stroke-dasharray="2.8 4.7"/>
<path d="M1748.0 642.2h-5 M1315.8 642.2h5" stroke="#111" stroke-width="2.4"/>
<path d="M1324.8 690.2H1748.0" stroke="#a8a596" stroke-opacity="0.9" stroke-width="2.8" stroke-dasharray="2.8 4.7"/>
<path d="M1748.0 690.2h-5 M1315.8 690.2h5" stroke="#111" stroke-width="2.4"/>
<path d="M1324.8 738.3H1748.0" stroke="#a8a596" stroke-opacity="0.9" stroke-width="2.8" stroke-dasharray="2.8 4.7"/>
<path d="M1748.0 738.3h-5 M1315.8 738.3h5" stroke="#111" stroke-width="2.4"/>
<path d="M1324.8 786.4H1748.0" stroke="#a8a596" stroke-opacity="0.9" stroke-width="2.8" stroke-dasharray="2.8 4.7"/>
<path d="M1748.0 786.4h-5 M1315.8 786.4h5" stroke="#111" stroke-width="2.4"/>
<path d="M1324.8 833.0H1748.0" stroke="#a8a596" stroke-opacity="0.9" stroke-width="2.8" stroke-dasharray="2.8 4.7"/>
<path d="M1748.0 833.0h-5 M1315.8 833.0h5" stroke="#111" stroke-width="2.4"/>
<path d="M1315.8 594.6h5 M1748.0 594.6h-5" stroke="#111" stroke-width="2.4"/>
<path d="M1315.4 522.6L1748 641.8" stroke="#8b6fe8" stroke-width="7.8" stroke-dasharray="29.6 7.4 15 7.8" stroke-dashoffset="2.5" fill="none"/>
<path d="M1315.4 525.3 C1329.5 529.2 1372.6 541.2 1400.0 548.8 C1427.4 556.4 1456.7 564.6 1480.0 571.0 C1503.3 577.4 1526.7 583.8 1540.0 587.4 C1553.3 591.0 1554.2 591.2 1560.0 592.8 C1565.8 594.4 1570.2 595.4 1575.0 596.8 C1579.8 598.2 1583.6 599.0 1588.5 601.0 C1593.4 603.0 1599.6 605.7 1604.5 609.0 C1609.4 612.3 1613.5 616.0 1618.0 621.0 C1622.5 626.0 1627.2 632.4 1631.5 639.0 C1635.8 645.6 1639.7 652.6 1643.5 660.5 C1647.3 668.4 1650.3 675.0 1654.5 686.5 C1658.7 698.0 1665.0 716.4 1668.8 729.8 C1672.6 743.1 1674.9 754.8 1677.3 766.6 C1679.7 778.4 1681.4 788.9 1683.0 800.5 C1684.6 812.1 1686.2 830.1 1686.8 836.0" stroke="#16c148" stroke-width="8.3" fill="none" stroke-linejoin="round"/>
<rect x="1315.8" y="522.7" width="432.2" height="312.7" fill="none" stroke="#1c1c1c" stroke-width="2.5"/>
<text transform="translate(1648.95 582.52) scale(1.0399 1)" font-family="'Liberation Sans',sans-serif" font-size="29.17" font-weight="normal" font-style="normal" fill="#111">σ = |a|</text>
<text transform="translate(1252.81 609.72) scale(0.8750 1)" font-family="'Liberation Sans',sans-serif" font-size="30.89" font-weight="normal" font-style="normal" fill="#111">10</text>
<text transform="translate(1283.62 598.89) scale(0.8290 1)" font-family="'Liberation Sans',sans-serif" font-size="26.30" font-weight="normal" font-style="normal" fill="#111">0</text>
<text transform="translate(1254.22 842.72) scale(0.8182 1)" font-family="'Liberation Sans',sans-serif" font-size="30.89" font-weight="normal" font-style="normal" fill="#111">10</text>
<text transform="translate(1283.97 832.50) scale(0.9176 1)" font-family="'Liberation Sans',sans-serif" font-size="25.60" font-weight="normal" font-style="normal" fill="#111">-5</text>
<text transform="translate(1309.10 879.92) scale(0.9277 1)" font-family="'Liberation Sans',sans-serif" font-size="31.03" font-weight="normal" font-style="normal" fill="#111">10</text>
<text transform="translate(1344.41 871.88) scale(0.9380 1)" font-family="'Liberation Sans',sans-serif" font-size="26.85" font-weight="normal" font-style="normal" fill="#111">3</text>
<text transform="translate(1506.93 879.92) scale(0.9151 1)" font-family="'Liberation Sans',sans-serif" font-size="31.03" font-weight="normal" font-style="normal" fill="#111">10</text>
<text transform="translate(1538.82 871.79) scale(0.9602 1)" font-family="'Liberation Sans',sans-serif" font-size="26.02" font-weight="normal" font-style="normal" fill="#111">5</text>
<text transform="translate(1672.09 878.01) scale(0.9267 1)" font-family="'Liberation Sans',sans-serif" font-size="31.17" font-weight="normal" font-style="normal" fill="#111">10</text>
<text transform="translate(1702.64 870.00) scale(1.0272 1)" font-family="'Liberation Sans',sans-serif" font-size="26.17" font-weight="normal" font-style="normal" fill="#111">7</text>
<text transform="translate(1512.41 920.20) scale(1.0131 1)" font-family="'Liberation Sans',sans-serif" font-size="36.50" font-weight="normal" font-style="normal" fill="#111">N</text>
<text transform="translate(1258.6 693.3) rotate(-90)" text-anchor="middle" font-family="'Liberation Sans',sans-serif" font-size="30.5" fill="#111">σ/a</text>
</svg>
</body></html>
